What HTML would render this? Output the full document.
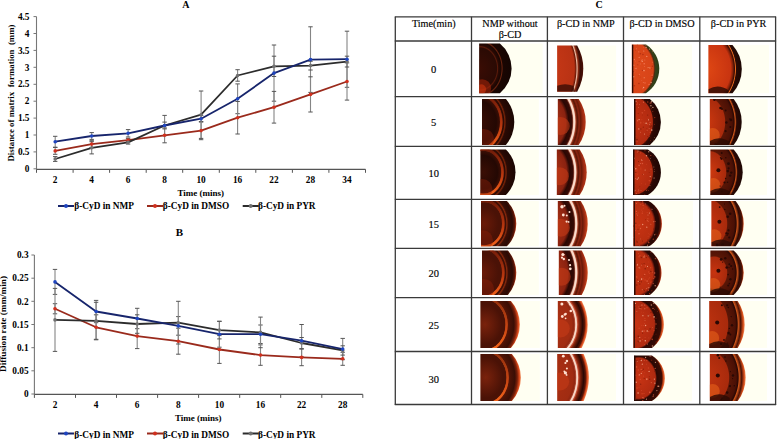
<!DOCTYPE html><html><head><meta charset="utf-8"><style>
html,body{margin:0;padding:0;background:#fff;}
#root{position:relative;width:777px;height:439px;overflow:hidden;background:#fff;font-family:"Liberation Serif",serif;}
.t{position:absolute;white-space:nowrap;line-height:1;color:#000;}
.s{-webkit-text-stroke:0.15px #000;}
.b{font-weight:bold;}
</style></head><body><div id="root">
<svg style="position:absolute;left:0;top:0" width="390" height="439" viewBox="0 0 390 439">
<line x1="36.5" y1="16.6" x2="36.5" y2="169.3" stroke="#777" stroke-width="1.1"/>
<line x1="36.5" y1="169.3" x2="365.5" y2="169.3" stroke="#555" stroke-width="1.3"/>
<line x1="33.5" y1="168.8" x2="36.5" y2="168.8" stroke="#777" stroke-width="1"/>
<line x1="33.5" y1="151.9" x2="36.5" y2="151.9" stroke="#777" stroke-width="1"/>
<line x1="33.5" y1="135.0" x2="36.5" y2="135.0" stroke="#777" stroke-width="1"/>
<line x1="33.5" y1="118.1" x2="36.5" y2="118.1" stroke="#777" stroke-width="1"/>
<line x1="33.5" y1="101.2" x2="36.5" y2="101.2" stroke="#777" stroke-width="1"/>
<line x1="33.5" y1="84.3" x2="36.5" y2="84.3" stroke="#777" stroke-width="1"/>
<line x1="33.5" y1="67.3" x2="36.5" y2="67.3" stroke="#777" stroke-width="1"/>
<line x1="33.5" y1="50.4" x2="36.5" y2="50.4" stroke="#777" stroke-width="1"/>
<line x1="33.5" y1="33.5" x2="36.5" y2="33.5" stroke="#777" stroke-width="1"/>
<line x1="33.5" y1="16.6" x2="36.5" y2="16.6" stroke="#777" stroke-width="1"/>
<line x1="36.5" y1="169.3" x2="36.5" y2="172.8" stroke="#555" stroke-width="1"/>
<line x1="73.1" y1="169.3" x2="73.1" y2="172.8" stroke="#555" stroke-width="1"/>
<line x1="109.6" y1="169.3" x2="109.6" y2="172.8" stroke="#555" stroke-width="1"/>
<line x1="146.2" y1="169.3" x2="146.2" y2="172.8" stroke="#555" stroke-width="1"/>
<line x1="182.7" y1="169.3" x2="182.7" y2="172.8" stroke="#555" stroke-width="1"/>
<line x1="219.3" y1="169.3" x2="219.3" y2="172.8" stroke="#555" stroke-width="1"/>
<line x1="255.8" y1="169.3" x2="255.8" y2="172.8" stroke="#555" stroke-width="1"/>
<line x1="292.4" y1="169.3" x2="292.4" y2="172.8" stroke="#555" stroke-width="1"/>
<line x1="328.9" y1="169.3" x2="328.9" y2="172.8" stroke="#555" stroke-width="1"/>
<line x1="365.5" y1="169.3" x2="365.5" y2="172.8" stroke="#555" stroke-width="1"/>
<line x1="55.2" y1="136.3" x2="55.2" y2="147.2" stroke="#858585" stroke-width="1.1"/>
<line x1="53.0" y1="136.3" x2="57.4" y2="136.3" stroke="#555" stroke-width="1"/>
<line x1="53.0" y1="147.2" x2="57.4" y2="147.2" stroke="#555" stroke-width="1"/>
<line x1="91.7" y1="132.6" x2="91.7" y2="139.4" stroke="#858585" stroke-width="1.1"/>
<line x1="89.5" y1="132.6" x2="93.9" y2="132.6" stroke="#555" stroke-width="1"/>
<line x1="89.5" y1="139.4" x2="93.9" y2="139.4" stroke="#555" stroke-width="1"/>
<line x1="128.1" y1="129.6" x2="128.1" y2="137.0" stroke="#858585" stroke-width="1.1"/>
<line x1="125.9" y1="129.6" x2="130.3" y2="129.6" stroke="#555" stroke-width="1"/>
<line x1="125.9" y1="137.0" x2="130.3" y2="137.0" stroke="#555" stroke-width="1"/>
<line x1="164.6" y1="115.4" x2="164.6" y2="135.7" stroke="#858585" stroke-width="1.1"/>
<line x1="162.4" y1="115.4" x2="166.8" y2="115.4" stroke="#555" stroke-width="1"/>
<line x1="162.4" y1="135.7" x2="166.8" y2="135.7" stroke="#555" stroke-width="1"/>
<line x1="201.1" y1="115.4" x2="201.1" y2="122.1" stroke="#858585" stroke-width="1.1"/>
<line x1="198.9" y1="115.4" x2="203.3" y2="115.4" stroke="#555" stroke-width="1"/>
<line x1="198.9" y1="122.1" x2="203.3" y2="122.1" stroke="#555" stroke-width="1"/>
<line x1="237.6" y1="83.9" x2="237.6" y2="113.7" stroke="#858585" stroke-width="1.1"/>
<line x1="235.4" y1="83.9" x2="239.8" y2="83.9" stroke="#555" stroke-width="1"/>
<line x1="235.4" y1="113.7" x2="239.8" y2="113.7" stroke="#555" stroke-width="1"/>
<line x1="274.0" y1="45.0" x2="274.0" y2="101.2" stroke="#858585" stroke-width="1.1"/>
<line x1="271.8" y1="45.0" x2="276.2" y2="45.0" stroke="#555" stroke-width="1"/>
<line x1="271.8" y1="101.2" x2="276.2" y2="101.2" stroke="#555" stroke-width="1"/>
<line x1="310.5" y1="26.8" x2="310.5" y2="92.4" stroke="#858585" stroke-width="1.1"/>
<line x1="308.3" y1="26.8" x2="312.7" y2="26.8" stroke="#555" stroke-width="1"/>
<line x1="308.3" y1="92.4" x2="312.7" y2="92.4" stroke="#555" stroke-width="1"/>
<line x1="347.0" y1="31.2" x2="347.0" y2="87.3" stroke="#858585" stroke-width="1.1"/>
<line x1="344.8" y1="31.2" x2="349.2" y2="31.2" stroke="#555" stroke-width="1"/>
<line x1="344.8" y1="87.3" x2="349.2" y2="87.3" stroke="#555" stroke-width="1"/>
<line x1="55.2" y1="147.5" x2="55.2" y2="154.3" stroke="#858585" stroke-width="1.1"/>
<line x1="53.0" y1="147.5" x2="57.4" y2="147.5" stroke="#555" stroke-width="1"/>
<line x1="53.0" y1="154.3" x2="57.4" y2="154.3" stroke="#555" stroke-width="1"/>
<line x1="91.7" y1="140.7" x2="91.7" y2="147.5" stroke="#858585" stroke-width="1.1"/>
<line x1="89.5" y1="140.7" x2="93.9" y2="140.7" stroke="#555" stroke-width="1"/>
<line x1="89.5" y1="147.5" x2="93.9" y2="147.5" stroke="#555" stroke-width="1"/>
<line x1="128.1" y1="138.4" x2="128.1" y2="141.7" stroke="#858585" stroke-width="1.1"/>
<line x1="125.9" y1="138.4" x2="130.3" y2="138.4" stroke="#555" stroke-width="1"/>
<line x1="125.9" y1="141.7" x2="130.3" y2="141.7" stroke="#555" stroke-width="1"/>
<line x1="164.6" y1="127.9" x2="164.6" y2="142.8" stroke="#858585" stroke-width="1.1"/>
<line x1="162.4" y1="127.9" x2="166.8" y2="127.9" stroke="#555" stroke-width="1"/>
<line x1="162.4" y1="142.8" x2="166.8" y2="142.8" stroke="#555" stroke-width="1"/>
<line x1="201.1" y1="121.5" x2="201.1" y2="139.7" stroke="#858585" stroke-width="1.1"/>
<line x1="198.9" y1="121.5" x2="203.3" y2="121.5" stroke="#555" stroke-width="1"/>
<line x1="198.9" y1="139.7" x2="203.3" y2="139.7" stroke="#555" stroke-width="1"/>
<line x1="237.6" y1="101.5" x2="237.6" y2="134.0" stroke="#858585" stroke-width="1.1"/>
<line x1="235.4" y1="101.5" x2="239.8" y2="101.5" stroke="#555" stroke-width="1"/>
<line x1="235.4" y1="134.0" x2="239.8" y2="134.0" stroke="#555" stroke-width="1"/>
<line x1="274.0" y1="91.4" x2="274.0" y2="123.1" stroke="#858585" stroke-width="1.1"/>
<line x1="271.8" y1="91.4" x2="276.2" y2="91.4" stroke="#555" stroke-width="1"/>
<line x1="271.8" y1="123.1" x2="276.2" y2="123.1" stroke="#555" stroke-width="1"/>
<line x1="310.5" y1="76.8" x2="310.5" y2="112.0" stroke="#858585" stroke-width="1.1"/>
<line x1="308.3" y1="76.8" x2="312.7" y2="76.8" stroke="#555" stroke-width="1"/>
<line x1="308.3" y1="112.0" x2="312.7" y2="112.0" stroke="#555" stroke-width="1"/>
<line x1="347.0" y1="62.9" x2="347.0" y2="100.1" stroke="#858585" stroke-width="1.1"/>
<line x1="344.8" y1="62.9" x2="349.2" y2="62.9" stroke="#555" stroke-width="1"/>
<line x1="344.8" y1="100.1" x2="349.2" y2="100.1" stroke="#555" stroke-width="1"/>
<line x1="55.2" y1="156.6" x2="55.2" y2="161.4" stroke="#858585" stroke-width="1.1"/>
<line x1="53.0" y1="156.6" x2="57.4" y2="156.6" stroke="#555" stroke-width="1"/>
<line x1="53.0" y1="161.4" x2="57.4" y2="161.4" stroke="#555" stroke-width="1"/>
<line x1="91.7" y1="141.7" x2="91.7" y2="153.9" stroke="#858585" stroke-width="1.1"/>
<line x1="89.5" y1="141.7" x2="93.9" y2="141.7" stroke="#555" stroke-width="1"/>
<line x1="89.5" y1="153.9" x2="93.9" y2="153.9" stroke="#555" stroke-width="1"/>
<line x1="128.1" y1="140.7" x2="128.1" y2="144.1" stroke="#858585" stroke-width="1.1"/>
<line x1="125.9" y1="140.7" x2="130.3" y2="140.7" stroke="#555" stroke-width="1"/>
<line x1="125.9" y1="144.1" x2="130.3" y2="144.1" stroke="#555" stroke-width="1"/>
<line x1="164.6" y1="122.1" x2="164.6" y2="128.9" stroke="#858585" stroke-width="1.1"/>
<line x1="162.4" y1="122.1" x2="166.8" y2="122.1" stroke="#555" stroke-width="1"/>
<line x1="162.4" y1="128.9" x2="166.8" y2="128.9" stroke="#555" stroke-width="1"/>
<line x1="201.1" y1="91.0" x2="201.1" y2="138.4" stroke="#858585" stroke-width="1.1"/>
<line x1="198.9" y1="91.0" x2="203.3" y2="91.0" stroke="#555" stroke-width="1"/>
<line x1="198.9" y1="138.4" x2="203.3" y2="138.4" stroke="#555" stroke-width="1"/>
<line x1="237.6" y1="69.7" x2="237.6" y2="81.2" stroke="#858585" stroke-width="1.1"/>
<line x1="235.4" y1="69.7" x2="239.8" y2="69.7" stroke="#555" stroke-width="1"/>
<line x1="235.4" y1="81.2" x2="239.8" y2="81.2" stroke="#555" stroke-width="1"/>
<line x1="274.0" y1="56.2" x2="274.0" y2="76.5" stroke="#858585" stroke-width="1.1"/>
<line x1="271.8" y1="56.2" x2="276.2" y2="56.2" stroke="#555" stroke-width="1"/>
<line x1="271.8" y1="76.5" x2="276.2" y2="76.5" stroke="#555" stroke-width="1"/>
<line x1="310.5" y1="61.3" x2="310.5" y2="70.0" stroke="#858585" stroke-width="1.1"/>
<line x1="308.3" y1="61.3" x2="312.7" y2="61.3" stroke="#555" stroke-width="1"/>
<line x1="308.3" y1="70.0" x2="312.7" y2="70.0" stroke="#555" stroke-width="1"/>
<line x1="347.0" y1="56.2" x2="347.0" y2="67.0" stroke="#858585" stroke-width="1.1"/>
<line x1="344.8" y1="56.2" x2="349.2" y2="56.2" stroke="#555" stroke-width="1"/>
<line x1="344.8" y1="67.0" x2="349.2" y2="67.0" stroke="#555" stroke-width="1"/>
<polyline points="55.2,150.9 91.7,144.1 128.1,140.1 164.6,135.3 201.1,130.6 237.6,117.7 274.0,107.2 310.5,94.4 347.0,81.5" fill="none" stroke="#9a2a1c" stroke-width="1.8" stroke-linejoin="round"/>
<circle cx="55.2" cy="150.9" r="1.8" fill="#d0301e"/>
<circle cx="91.7" cy="144.1" r="1.8" fill="#d0301e"/>
<circle cx="128.1" cy="140.1" r="1.8" fill="#d0301e"/>
<circle cx="164.6" cy="135.3" r="1.8" fill="#d0301e"/>
<circle cx="201.1" cy="130.6" r="1.8" fill="#d0301e"/>
<circle cx="237.6" cy="117.7" r="1.8" fill="#d0301e"/>
<circle cx="274.0" cy="107.2" r="1.8" fill="#d0301e"/>
<circle cx="310.5" cy="94.4" r="1.8" fill="#d0301e"/>
<circle cx="347.0" cy="81.5" r="1.8" fill="#d0301e"/>
<polyline points="55.2,159.0 91.7,147.8 128.1,142.4 164.6,125.5 201.1,114.7 237.6,75.5 274.0,66.3 310.5,65.6 347.0,61.6" fill="none" stroke="#2c2c2c" stroke-width="1.8" stroke-linejoin="round"/>
<circle cx="55.2" cy="159.0" r="1.8" fill="#707070"/>
<circle cx="91.7" cy="147.8" r="1.8" fill="#707070"/>
<circle cx="128.1" cy="142.4" r="1.8" fill="#707070"/>
<circle cx="164.6" cy="125.5" r="1.8" fill="#707070"/>
<circle cx="201.1" cy="114.7" r="1.8" fill="#707070"/>
<circle cx="237.6" cy="75.5" r="1.8" fill="#707070"/>
<circle cx="274.0" cy="66.3" r="1.8" fill="#707070"/>
<circle cx="310.5" cy="65.6" r="1.8" fill="#707070"/>
<circle cx="347.0" cy="61.6" r="1.8" fill="#707070"/>
<polyline points="55.2,141.7 91.7,136.0 128.1,133.3 164.6,125.5 201.1,118.7 237.6,98.8 274.0,73.1 310.5,59.6 347.0,59.2" fill="none" stroke="#17256c" stroke-width="1.8" stroke-linejoin="round"/>
<circle cx="55.2" cy="141.7" r="1.8" fill="#1f45c0"/>
<circle cx="91.7" cy="136.0" r="1.8" fill="#1f45c0"/>
<circle cx="128.1" cy="133.3" r="1.8" fill="#1f45c0"/>
<circle cx="164.6" cy="125.5" r="1.8" fill="#1f45c0"/>
<circle cx="201.1" cy="118.7" r="1.8" fill="#1f45c0"/>
<circle cx="237.6" cy="98.8" r="1.8" fill="#1f45c0"/>
<circle cx="274.0" cy="73.1" r="1.8" fill="#1f45c0"/>
<circle cx="310.5" cy="59.6" r="1.8" fill="#1f45c0"/>
<circle cx="347.0" cy="59.2" r="1.8" fill="#1f45c0"/>
<line x1="34.4" y1="255.0" x2="34.4" y2="394.4" stroke="#777" stroke-width="1.1"/>
<line x1="34.4" y1="394.4" x2="362.8" y2="394.4" stroke="#555" stroke-width="1.3"/>
<line x1="31.4" y1="394.0" x2="34.4" y2="394.0" stroke="#777" stroke-width="1"/>
<line x1="31.4" y1="370.8" x2="34.4" y2="370.8" stroke="#777" stroke-width="1"/>
<line x1="31.4" y1="347.7" x2="34.4" y2="347.7" stroke="#777" stroke-width="1"/>
<line x1="31.4" y1="324.5" x2="34.4" y2="324.5" stroke="#777" stroke-width="1"/>
<line x1="31.4" y1="301.3" x2="34.4" y2="301.3" stroke="#777" stroke-width="1"/>
<line x1="31.4" y1="278.2" x2="34.4" y2="278.2" stroke="#777" stroke-width="1"/>
<line x1="31.4" y1="255.0" x2="34.4" y2="255.0" stroke="#777" stroke-width="1"/>
<line x1="34.4" y1="394.4" x2="34.4" y2="397.9" stroke="#555" stroke-width="1"/>
<line x1="75.5" y1="394.4" x2="75.5" y2="397.9" stroke="#555" stroke-width="1"/>
<line x1="116.5" y1="394.4" x2="116.5" y2="397.9" stroke="#555" stroke-width="1"/>
<line x1="157.6" y1="394.4" x2="157.6" y2="397.9" stroke="#555" stroke-width="1"/>
<line x1="198.6" y1="394.4" x2="198.6" y2="397.9" stroke="#555" stroke-width="1"/>
<line x1="239.7" y1="394.4" x2="239.7" y2="397.9" stroke="#555" stroke-width="1"/>
<line x1="280.7" y1="394.4" x2="280.7" y2="397.9" stroke="#555" stroke-width="1"/>
<line x1="321.8" y1="394.4" x2="321.8" y2="397.9" stroke="#555" stroke-width="1"/>
<line x1="362.8" y1="394.4" x2="362.8" y2="397.9" stroke="#555" stroke-width="1"/>
<line x1="55.0" y1="269.4" x2="55.0" y2="294.4" stroke="#858585" stroke-width="1.1"/>
<line x1="52.8" y1="269.4" x2="57.2" y2="269.4" stroke="#555" stroke-width="1"/>
<line x1="52.8" y1="294.4" x2="57.2" y2="294.4" stroke="#555" stroke-width="1"/>
<line x1="96.1" y1="300.4" x2="96.1" y2="322.7" stroke="#858585" stroke-width="1.1"/>
<line x1="93.9" y1="300.4" x2="98.3" y2="300.4" stroke="#555" stroke-width="1"/>
<line x1="93.9" y1="322.7" x2="98.3" y2="322.7" stroke="#555" stroke-width="1"/>
<line x1="137.2" y1="308.3" x2="137.2" y2="328.7" stroke="#858585" stroke-width="1.1"/>
<line x1="135.0" y1="308.3" x2="139.4" y2="308.3" stroke="#555" stroke-width="1"/>
<line x1="135.0" y1="328.7" x2="139.4" y2="328.7" stroke="#555" stroke-width="1"/>
<line x1="178.3" y1="316.6" x2="178.3" y2="335.2" stroke="#858585" stroke-width="1.1"/>
<line x1="176.1" y1="316.6" x2="180.5" y2="316.6" stroke="#555" stroke-width="1"/>
<line x1="176.1" y1="335.2" x2="180.5" y2="335.2" stroke="#555" stroke-width="1"/>
<line x1="219.4" y1="321.3" x2="219.4" y2="347.2" stroke="#858585" stroke-width="1.1"/>
<line x1="217.2" y1="321.3" x2="221.6" y2="321.3" stroke="#555" stroke-width="1"/>
<line x1="217.2" y1="347.2" x2="221.6" y2="347.2" stroke="#555" stroke-width="1"/>
<line x1="260.5" y1="325.0" x2="260.5" y2="343.5" stroke="#858585" stroke-width="1.1"/>
<line x1="258.3" y1="325.0" x2="262.7" y2="325.0" stroke="#555" stroke-width="1"/>
<line x1="258.3" y1="343.5" x2="262.7" y2="343.5" stroke="#555" stroke-width="1"/>
<line x1="301.6" y1="324.5" x2="301.6" y2="356.9" stroke="#858585" stroke-width="1.1"/>
<line x1="299.4" y1="324.5" x2="303.8" y2="324.5" stroke="#555" stroke-width="1"/>
<line x1="299.4" y1="356.9" x2="303.8" y2="356.9" stroke="#555" stroke-width="1"/>
<line x1="342.7" y1="338.4" x2="342.7" y2="359.7" stroke="#858585" stroke-width="1.1"/>
<line x1="340.5" y1="338.4" x2="344.9" y2="338.4" stroke="#555" stroke-width="1"/>
<line x1="340.5" y1="359.7" x2="344.9" y2="359.7" stroke="#555" stroke-width="1"/>
<line x1="55.0" y1="303.7" x2="55.0" y2="313.8" stroke="#858585" stroke-width="1.1"/>
<line x1="52.8" y1="303.7" x2="57.2" y2="303.7" stroke="#555" stroke-width="1"/>
<line x1="52.8" y1="313.8" x2="57.2" y2="313.8" stroke="#555" stroke-width="1"/>
<line x1="96.1" y1="314.8" x2="96.1" y2="339.8" stroke="#858585" stroke-width="1.1"/>
<line x1="93.9" y1="314.8" x2="98.3" y2="314.8" stroke="#555" stroke-width="1"/>
<line x1="93.9" y1="339.8" x2="98.3" y2="339.8" stroke="#555" stroke-width="1"/>
<line x1="137.2" y1="323.6" x2="137.2" y2="348.6" stroke="#858585" stroke-width="1.1"/>
<line x1="135.0" y1="323.6" x2="139.4" y2="323.6" stroke="#555" stroke-width="1"/>
<line x1="135.0" y1="348.6" x2="139.4" y2="348.6" stroke="#555" stroke-width="1"/>
<line x1="178.3" y1="328.2" x2="178.3" y2="354.2" stroke="#858585" stroke-width="1.1"/>
<line x1="176.1" y1="328.2" x2="180.5" y2="328.2" stroke="#555" stroke-width="1"/>
<line x1="176.1" y1="354.2" x2="180.5" y2="354.2" stroke="#555" stroke-width="1"/>
<line x1="219.4" y1="335.6" x2="219.4" y2="363.4" stroke="#858585" stroke-width="1.1"/>
<line x1="217.2" y1="335.6" x2="221.6" y2="335.6" stroke="#555" stroke-width="1"/>
<line x1="217.2" y1="363.4" x2="221.6" y2="363.4" stroke="#555" stroke-width="1"/>
<line x1="260.5" y1="344.9" x2="260.5" y2="365.3" stroke="#858585" stroke-width="1.1"/>
<line x1="258.3" y1="344.9" x2="262.7" y2="344.9" stroke="#555" stroke-width="1"/>
<line x1="258.3" y1="365.3" x2="262.7" y2="365.3" stroke="#555" stroke-width="1"/>
<line x1="301.6" y1="349.1" x2="301.6" y2="365.7" stroke="#858585" stroke-width="1.1"/>
<line x1="299.4" y1="349.1" x2="303.8" y2="349.1" stroke="#555" stroke-width="1"/>
<line x1="299.4" y1="365.7" x2="303.8" y2="365.7" stroke="#555" stroke-width="1"/>
<line x1="342.7" y1="352.3" x2="342.7" y2="365.3" stroke="#858585" stroke-width="1.1"/>
<line x1="340.5" y1="352.3" x2="344.9" y2="352.3" stroke="#555" stroke-width="1"/>
<line x1="340.5" y1="365.3" x2="344.9" y2="365.3" stroke="#555" stroke-width="1"/>
<line x1="55.0" y1="288.4" x2="55.0" y2="351.4" stroke="#858585" stroke-width="1.1"/>
<line x1="52.8" y1="288.4" x2="57.2" y2="288.4" stroke="#555" stroke-width="1"/>
<line x1="52.8" y1="351.4" x2="57.2" y2="351.4" stroke="#555" stroke-width="1"/>
<line x1="96.1" y1="302.3" x2="96.1" y2="339.3" stroke="#858585" stroke-width="1.1"/>
<line x1="93.9" y1="302.3" x2="98.3" y2="302.3" stroke="#555" stroke-width="1"/>
<line x1="93.9" y1="339.3" x2="98.3" y2="339.3" stroke="#555" stroke-width="1"/>
<line x1="137.2" y1="314.8" x2="137.2" y2="333.3" stroke="#858585" stroke-width="1.1"/>
<line x1="135.0" y1="314.8" x2="139.4" y2="314.8" stroke="#555" stroke-width="1"/>
<line x1="135.0" y1="333.3" x2="139.4" y2="333.3" stroke="#555" stroke-width="1"/>
<line x1="178.3" y1="301.3" x2="178.3" y2="344.0" stroke="#858585" stroke-width="1.1"/>
<line x1="176.1" y1="301.3" x2="180.5" y2="301.3" stroke="#555" stroke-width="1"/>
<line x1="176.1" y1="344.0" x2="180.5" y2="344.0" stroke="#555" stroke-width="1"/>
<line x1="219.4" y1="321.3" x2="219.4" y2="338.9" stroke="#858585" stroke-width="1.1"/>
<line x1="217.2" y1="321.3" x2="221.6" y2="321.3" stroke="#555" stroke-width="1"/>
<line x1="217.2" y1="338.9" x2="221.6" y2="338.9" stroke="#555" stroke-width="1"/>
<line x1="260.5" y1="317.1" x2="260.5" y2="347.7" stroke="#858585" stroke-width="1.1"/>
<line x1="258.3" y1="317.1" x2="262.7" y2="317.1" stroke="#555" stroke-width="1"/>
<line x1="258.3" y1="347.7" x2="262.7" y2="347.7" stroke="#555" stroke-width="1"/>
<line x1="301.6" y1="337.5" x2="301.6" y2="348.6" stroke="#858585" stroke-width="1.1"/>
<line x1="299.4" y1="337.5" x2="303.8" y2="337.5" stroke="#555" stroke-width="1"/>
<line x1="299.4" y1="348.6" x2="303.8" y2="348.6" stroke="#555" stroke-width="1"/>
<line x1="342.7" y1="345.8" x2="342.7" y2="355.1" stroke="#858585" stroke-width="1.1"/>
<line x1="340.5" y1="345.8" x2="344.9" y2="345.8" stroke="#555" stroke-width="1"/>
<line x1="340.5" y1="355.1" x2="344.9" y2="355.1" stroke="#555" stroke-width="1"/>
<polyline points="55.0,308.8 96.1,327.3 137.2,336.1 178.3,341.2 219.4,349.5 260.5,355.1 301.6,357.4 342.7,358.8" fill="none" stroke="#9a2a1c" stroke-width="1.8" stroke-linejoin="round"/>
<circle cx="55.0" cy="308.8" r="1.8" fill="#d0301e"/>
<circle cx="96.1" cy="327.3" r="1.8" fill="#d0301e"/>
<circle cx="137.2" cy="336.1" r="1.8" fill="#d0301e"/>
<circle cx="178.3" cy="341.2" r="1.8" fill="#d0301e"/>
<circle cx="219.4" cy="349.5" r="1.8" fill="#d0301e"/>
<circle cx="260.5" cy="355.1" r="1.8" fill="#d0301e"/>
<circle cx="301.6" cy="357.4" r="1.8" fill="#d0301e"/>
<circle cx="342.7" cy="358.8" r="1.8" fill="#d0301e"/>
<polyline points="55.0,319.9 96.1,320.8 137.2,324.0 178.3,322.7 219.4,330.1 260.5,332.4 301.6,343.0 342.7,350.4" fill="none" stroke="#2c2c2c" stroke-width="1.8" stroke-linejoin="round"/>
<circle cx="55.0" cy="319.9" r="1.8" fill="#707070"/>
<circle cx="96.1" cy="320.8" r="1.8" fill="#707070"/>
<circle cx="137.2" cy="324.0" r="1.8" fill="#707070"/>
<circle cx="178.3" cy="322.7" r="1.8" fill="#707070"/>
<circle cx="219.4" cy="330.1" r="1.8" fill="#707070"/>
<circle cx="260.5" cy="332.4" r="1.8" fill="#707070"/>
<circle cx="301.6" cy="343.0" r="1.8" fill="#707070"/>
<circle cx="342.7" cy="350.4" r="1.8" fill="#707070"/>
<polyline points="55.0,281.9 96.1,311.5 137.2,318.5 178.3,325.9 219.4,334.2 260.5,334.2 301.6,340.7 342.7,349.1" fill="none" stroke="#17256c" stroke-width="1.8" stroke-linejoin="round"/>
<circle cx="55.0" cy="281.9" r="1.8" fill="#1f45c0"/>
<circle cx="96.1" cy="311.5" r="1.8" fill="#1f45c0"/>
<circle cx="137.2" cy="318.5" r="1.8" fill="#1f45c0"/>
<circle cx="178.3" cy="325.9" r="1.8" fill="#1f45c0"/>
<circle cx="219.4" cy="334.2" r="1.8" fill="#1f45c0"/>
<circle cx="260.5" cy="334.2" r="1.8" fill="#1f45c0"/>
<circle cx="301.6" cy="340.7" r="1.8" fill="#1f45c0"/>
<circle cx="342.7" cy="349.1" r="1.8" fill="#1f45c0"/>
<line x1="58" y1="206" x2="74" y2="206" stroke="#17256c" stroke-width="2"/>
<circle cx="66" cy="206" r="2" fill="#1f45c0"/>
<line x1="147" y1="206" x2="163" y2="206" stroke="#9a2a1c" stroke-width="2"/>
<circle cx="155" cy="206" r="2" fill="#d0301e"/>
<line x1="242.7" y1="206" x2="258.7" y2="206" stroke="#2c2c2c" stroke-width="2"/>
<circle cx="250.7" cy="206" r="2" fill="#707070"/>
<line x1="58" y1="433.5" x2="74" y2="433.5" stroke="#17256c" stroke-width="2"/>
<circle cx="66" cy="433.5" r="2" fill="#1f45c0"/>
<line x1="147" y1="433.5" x2="163" y2="433.5" stroke="#9a2a1c" stroke-width="2"/>
<circle cx="155" cy="433.5" r="2" fill="#d0301e"/>
<line x1="242.7" y1="433.5" x2="258.7" y2="433.5" stroke="#2c2c2c" stroke-width="2"/>
<circle cx="250.7" cy="433.5" r="2" fill="#707070"/>
</svg>
<div class="t b" style="left:185.8px;top:4.5px;font-size:10px;transform:translate(-50%,-50%);">A</div>
<div class="t b" style="left:29.5px;top:170.0px;font-size:9.3px;transform:translate(-100%,-50%);">0</div>
<div class="t b" style="left:29.5px;top:153.09px;font-size:9.3px;transform:translate(-100%,-50%);">0.5</div>
<div class="t b" style="left:29.5px;top:136.18px;font-size:9.3px;transform:translate(-100%,-50%);">1</div>
<div class="t b" style="left:29.5px;top:119.27000000000001px;font-size:9.3px;transform:translate(-100%,-50%);">1.5</div>
<div class="t b" style="left:29.5px;top:102.36000000000001px;font-size:9.3px;transform:translate(-100%,-50%);">2</div>
<div class="t b" style="left:29.5px;top:85.45000000000002px;font-size:9.3px;transform:translate(-100%,-50%);">2.5</div>
<div class="t b" style="left:29.5px;top:68.54px;font-size:9.3px;transform:translate(-100%,-50%);">3</div>
<div class="t b" style="left:29.5px;top:51.63000000000001px;font-size:9.3px;transform:translate(-100%,-50%);">3.5</div>
<div class="t b" style="left:29.5px;top:34.72000000000001px;font-size:9.3px;transform:translate(-100%,-50%);">4</div>
<div class="t b" style="left:29.5px;top:17.810000000000013px;font-size:9.3px;transform:translate(-100%,-50%);">4.5</div>
<div class="t b" style="left:55.2px;top:181px;font-size:9.3px;transform:translate(-50%,-50%);">2</div>
<div class="t b" style="left:91.67px;top:181px;font-size:9.3px;transform:translate(-50%,-50%);">4</div>
<div class="t b" style="left:128.14px;top:181px;font-size:9.3px;transform:translate(-50%,-50%);">6</div>
<div class="t b" style="left:164.61px;top:181px;font-size:9.3px;transform:translate(-50%,-50%);">8</div>
<div class="t b" style="left:201.07999999999998px;top:181px;font-size:9.3px;transform:translate(-50%,-50%);">10</div>
<div class="t b" style="left:237.55px;top:181px;font-size:9.3px;transform:translate(-50%,-50%);">16</div>
<div class="t b" style="left:274.02px;top:181px;font-size:9.3px;transform:translate(-50%,-50%);">22</div>
<div class="t b" style="left:310.49px;top:181px;font-size:9.3px;transform:translate(-50%,-50%);">28</div>
<div class="t b" style="left:346.96px;top:181px;font-size:9.3px;transform:translate(-50%,-50%);">34</div>
<div class="t b" style="left:200.8px;top:192.5px;font-size:9px;transform:translate(-50%,-50%);">Time (mins)</div>
<div class="t b" style="left:10.8px;top:92.5px;font-size:8.85px;transform:translate(-50%,-50%) rotate(-90deg);">Distance of matrix&nbsp; formation&nbsp; (mm)</div>
<div class="t b" style="left:74.3px;top:207px;font-size:9.3px;transform:translate(0,-50%);">β-CyD in NMP</div>
<div class="t b" style="left:162.8px;top:207px;font-size:9.3px;transform:translate(0,-50%);">β-CyD in DMSO</div>
<div class="t b" style="left:258px;top:207px;font-size:9.3px;transform:translate(0,-50%);">β-CyD in PYR</div>
<div class="t b" style="left:179.5px;top:232px;font-size:11px;transform:translate(-50%,-50%);">B</div>
<div class="t b" style="left:28.6px;top:395.3px;font-size:9.3px;transform:translate(-100%,-50%);">0</div>
<div class="t b" style="left:28.6px;top:372.135px;font-size:9.3px;transform:translate(-100%,-50%);">0.05</div>
<div class="t b" style="left:28.6px;top:348.97px;font-size:9.3px;transform:translate(-100%,-50%);">0.1</div>
<div class="t b" style="left:28.6px;top:325.805px;font-size:9.3px;transform:translate(-100%,-50%);">0.15</div>
<div class="t b" style="left:28.6px;top:302.64px;font-size:9.3px;transform:translate(-100%,-50%);">0.2</div>
<div class="t b" style="left:28.6px;top:279.475px;font-size:9.3px;transform:translate(-100%,-50%);">0.25</div>
<div class="t b" style="left:28.6px;top:256.31px;font-size:9.3px;transform:translate(-100%,-50%);">0.3</div>
<div class="t b" style="left:55.0px;top:405.7px;font-size:9.3px;transform:translate(-50%,-50%);">2</div>
<div class="t b" style="left:96.1px;top:405.7px;font-size:9.3px;transform:translate(-50%,-50%);">4</div>
<div class="t b" style="left:137.2px;top:405.7px;font-size:9.3px;transform:translate(-50%,-50%);">6</div>
<div class="t b" style="left:178.3px;top:405.7px;font-size:9.3px;transform:translate(-50%,-50%);">8</div>
<div class="t b" style="left:219.4px;top:405.7px;font-size:9.3px;transform:translate(-50%,-50%);">10</div>
<div class="t b" style="left:260.5px;top:405.7px;font-size:9.3px;transform:translate(-50%,-50%);">16</div>
<div class="t b" style="left:301.6px;top:405.7px;font-size:9.3px;transform:translate(-50%,-50%);">22</div>
<div class="t b" style="left:342.7px;top:405.7px;font-size:9.3px;transform:translate(-50%,-50%);">28</div>
<div class="t b" style="left:198.3px;top:417.8px;font-size:9px;transform:translate(-50%,-50%);">Time (mins)</div>
<div class="t b" style="left:4.2px;top:324.2px;font-size:9.2px;transform:translate(-50%,-50%) rotate(-90deg);">Diffusion rate (mm/min)</div>
<div class="t b" style="left:74.3px;top:435.5px;font-size:9.3px;transform:translate(0,-50%);">β-CyD in NMP</div>
<div class="t b" style="left:162.8px;top:435.5px;font-size:9.3px;transform:translate(0,-50%);">β-CyD in DMSO</div>
<div class="t b" style="left:258px;top:435.5px;font-size:9.3px;transform:translate(0,-50%);">β-CyD in PYR</div>
<div class="t b" style="left:599px;top:5px;font-size:10px;transform:translate(-50%,-50%);">C</div>
<svg style="position:absolute;left:0;top:0" width="777" height="439" viewBox="0 0 777 439">
<defs><linearGradient id="gb" x1="0" y1="0" x2="0" y2="1"><stop offset="0" stop-color="#6a1806"/><stop offset="0.55" stop-color="#b8360e"/><stop offset="1" stop-color="#ff6a1c"/></linearGradient><linearGradient id="go" x1="1" y1="0" x2="0" y2="1"><stop offset="0" stop-color="#9a220a"/><stop offset="0.6" stop-color="#c8340e"/><stop offset="1" stop-color="#f06018"/></linearGradient><clipPath id="c01"><path d="M479.1,43.6 L499.90,43.6 A32.13,32.13 0 0 1 499.90,93.2 L479.1,93.2 Z"/></clipPath><radialGradient id="rg01" gradientUnits="userSpaceOnUse" cx="479.47" cy="68.40" r="32.13" gradientTransform="translate(0,68.40) scale(1,1.2) translate(0,-68.40)"><stop offset="0.0000" stop-color="#3a0c04"/><stop offset="0.5332" stop-color="#2a0a04"/><stop offset="0.5643" stop-color="#5a1a0a"/><stop offset="0.5954" stop-color="#2a0a04"/><stop offset="0.6732" stop-color="#1a0602"/><stop offset="0.7044" stop-color="#6a2410"/><stop offset="0.7355" stop-color="#1a0602"/><stop offset="1.0000" stop-color="#140502"/></radialGradient><clipPath id="c02"><path d="M557.1,45.5 L577.20,45.5 A46.79,46.79 0 0 1 577.20,91.7 L557.1,91.7 Z"/></clipPath><radialGradient id="rg02" gradientUnits="userSpaceOnUse" cx="536.51" cy="68.60" r="46.79" gradientTransform="translate(0,68.60) scale(1,1.3) translate(0,-68.60)"><stop offset="0.0000" stop-color="#d03c18"/><stop offset="0.8076" stop-color="#b83214"/><stop offset="0.8440" stop-color="#6a1a08"/><stop offset="0.8654" stop-color="#f0c0a8"/><stop offset="0.8931" stop-color="#8a2a12"/><stop offset="0.9359" stop-color="#3a0c05"/><stop offset="1.0000" stop-color="#4a1006"/></radialGradient><clipPath id="c03"><path d="M631.8,44.5 L646.00,44.5 A28.94,28.94 0 0 1 646.00,93.2 L631.8,93.2 Z"/></clipPath><radialGradient id="rg03" gradientUnits="userSpaceOnUse" cx="630.36" cy="68.85" r="28.94" gradientTransform="translate(0,68.85) scale(1,1.2) translate(0,-68.85)"><stop offset="0.0000" stop-color="#e04c1e"/><stop offset="0.7927" stop-color="#d84418"/><stop offset="0.8445" stop-color="#4a2a10"/><stop offset="0.8791" stop-color="#34421a"/><stop offset="1.0000" stop-color="#2a3c16"/></radialGradient><clipPath id="c04"><path d="M708.4,44.9 L732.50,44.9 A36.01,36.01 0 0 1 732.50,93.2 L708.4,93.2 Z"/></clipPath><radialGradient id="rg04" gradientUnits="userSpaceOnUse" cx="705.79" cy="69.05" r="36.01" gradientTransform="translate(0,69.05) scale(1,1.25) translate(0,-69.05)"><stop offset="0.0000" stop-color="#e04814"/><stop offset="0.6945" stop-color="#c83410"/><stop offset="0.7500" stop-color="#8a2208"/><stop offset="0.7973" stop-color="#3a0c04"/><stop offset="0.8250" stop-color="#e8681e"/><stop offset="0.8472" stop-color="#2a0a04"/><stop offset="1.0000" stop-color="#1a0602"/></radialGradient><clipPath id="c11"><path d="M482.0,99.0 L505.90,99.0 A35.55,35.55 0 0 1 505.90,144.9 L482.0,144.9 Z"/></clipPath><radialGradient id="rg11" gradientUnits="userSpaceOnUse" cx="478.75" cy="121.95" r="35.55" gradientTransform="translate(0,121.95) scale(1,1.2) translate(0,-121.95)"><stop offset="0.0000" stop-color="#3a0e05"/><stop offset="0.4937" stop-color="#240803"/><stop offset="0.5921" stop-color="#3a0e05"/><stop offset="0.6343" stop-color="#b8401a"/><stop offset="0.6765" stop-color="#3a0e05"/><stop offset="0.7047" stop-color="#2a0a04"/><stop offset="0.7328" stop-color="#7a2408"/><stop offset="0.7750" stop-color="#2a0a04"/><stop offset="1.0000" stop-color="#1a0602"/></radialGradient><clipPath id="c12"><path d="M557.8,99.0 L578.70,99.0 A41.29,41.29 0 0 1 578.70,145.0 L557.8,145.0 Z"/></clipPath><radialGradient id="rg12" gradientUnits="userSpaceOnUse" cx="544.41" cy="122.00" r="41.29" gradientTransform="translate(0,122.00) scale(1,1.3) translate(0,-122.00)"><stop offset="0.0000" stop-color="#c03a18"/><stop offset="0.5156" stop-color="#8a2210"/><stop offset="0.5882" stop-color="#2a0804"/><stop offset="0.6851" stop-color="#3a0a04"/><stop offset="0.7093" stop-color="#f5c8b0"/><stop offset="0.7384" stop-color="#f8d8c8"/><stop offset="0.7626" stop-color="#8a2a12"/><stop offset="0.8062" stop-color="#5a1606"/><stop offset="0.8426" stop-color="#8a2410"/><stop offset="0.8789" stop-color="#6a1a08"/><stop offset="0.9394" stop-color="#a02c12"/><stop offset="1.0000" stop-color="#b83a18"/></radialGradient><clipPath id="c13"><path d="M634.0,99.0 L649.90,99.0 A29.55,29.55 0 0 1 649.90,145.0 L634.0,145.0 Z"/></clipPath><radialGradient id="rg13" gradientUnits="userSpaceOnUse" cx="631.35" cy="122.00" r="29.55" gradientTransform="translate(0,122.00) scale(1,1.2) translate(0,-122.00)"><stop offset="0.0000" stop-color="#c83414"/><stop offset="0.7123" stop-color="#b02a10"/><stop offset="0.7462" stop-color="#3a0c05"/><stop offset="0.7969" stop-color="#2a0804"/><stop offset="1.0000" stop-color="#1e0603"/></radialGradient><clipPath id="c14"><path d="M709.8,99.0 L733.70,99.0 A37.06,37.06 0 0 1 733.70,145.0 L709.8,145.0 Z"/></clipPath><radialGradient id="rg14" gradientUnits="userSpaceOnUse" cx="704.64" cy="122.00" r="37.06" gradientTransform="translate(0,122.00) scale(1,1.25) translate(0,-122.00)"><stop offset="0.0000" stop-color="#d03a10"/><stop offset="0.5413" stop-color="#a82a0c"/><stop offset="0.5683" stop-color="#5a1606"/><stop offset="0.7437" stop-color="#4a1005"/><stop offset="0.7976" stop-color="#2a0804"/><stop offset="0.8246" stop-color="#d0561a"/><stop offset="0.8651" stop-color="#2a0804"/><stop offset="1.0000" stop-color="#1c0703"/></radialGradient><clipPath id="c21"><path d="M480.4,149.4 L505.90,149.4 A31.87,31.87 0 0 1 505.90,195.0 L480.4,195.0 Z"/></clipPath><radialGradient id="rg21" gradientUnits="userSpaceOnUse" cx="483.63" cy="172.20" r="31.87" gradientTransform="translate(0,172.20) scale(1,1.2) translate(0,-172.20)"><stop offset="0.0000" stop-color="#3a0e05"/><stop offset="0.4353" stop-color="#240803"/><stop offset="0.5451" stop-color="#3a0e05"/><stop offset="0.5922" stop-color="#b8401a"/><stop offset="0.6392" stop-color="#3a0e05"/><stop offset="0.6706" stop-color="#2a0a04"/><stop offset="0.7020" stop-color="#7a2408"/><stop offset="0.7490" stop-color="#2a0a04"/><stop offset="1.0000" stop-color="#1a0602"/></radialGradient><clipPath id="c22"><path d="M556.8,149.4 L579.70,149.4 A40.63,40.63 0 0 1 579.70,195.0 L556.8,195.0 Z"/></clipPath><radialGradient id="rg22" gradientUnits="userSpaceOnUse" cx="546.07" cy="172.20" r="40.63" gradientTransform="translate(0,172.20) scale(1,1.3) translate(0,-172.20)"><stop offset="0.0000" stop-color="#c03a18"/><stop offset="0.5078" stop-color="#8a2210"/><stop offset="0.5816" stop-color="#2a0804"/><stop offset="0.6801" stop-color="#3a0a04"/><stop offset="0.7047" stop-color="#f5c8b0"/><stop offset="0.7342" stop-color="#f8d8c8"/><stop offset="0.7588" stop-color="#8a2a12"/><stop offset="0.8031" stop-color="#5a1606"/><stop offset="0.8400" stop-color="#8a2410"/><stop offset="0.8769" stop-color="#6a1a08"/><stop offset="0.9385" stop-color="#a02c12"/><stop offset="1.0000" stop-color="#b83a18"/></radialGradient><clipPath id="c23"><path d="M633.0,149.4 L647.90,149.4 A26.49,26.49 0 0 1 647.90,195.0 L633.0,195.0 Z"/></clipPath><radialGradient id="rg23" gradientUnits="userSpaceOnUse" cx="634.41" cy="172.20" r="26.49" gradientTransform="translate(0,172.20) scale(1,1.2) translate(0,-172.20)"><stop offset="0.0000" stop-color="#c83414"/><stop offset="0.6792" stop-color="#b02a10"/><stop offset="0.7169" stop-color="#3a0c05"/><stop offset="0.7735" stop-color="#2a0804"/><stop offset="1.0000" stop-color="#1e0603"/></radialGradient><clipPath id="c24"><path d="M710.4,149.4 L733.70,149.4 A33.38,33.38 0 0 1 733.70,195.0 L710.4,195.0 Z"/></clipPath><radialGradient id="rg24" gradientUnits="userSpaceOnUse" cx="709.32" cy="172.20" r="33.38" gradientTransform="translate(0,172.20) scale(1,1.25) translate(0,-172.20)"><stop offset="0.0000" stop-color="#d03a10"/><stop offset="0.4907" stop-color="#a82a0c"/><stop offset="0.5207" stop-color="#5a1606"/><stop offset="0.7154" stop-color="#4a1005"/><stop offset="0.7753" stop-color="#2a0804"/><stop offset="0.8053" stop-color="#d0561a"/><stop offset="0.8502" stop-color="#2a0804"/><stop offset="1.0000" stop-color="#1c0703"/></radialGradient><clipPath id="c31"><path d="M481.0,201.0 L506.90,201.0 A31.99,31.99 0 0 1 506.90,246.3 L481.0,246.3 Z"/></clipPath><radialGradient id="rg31" gradientUnits="userSpaceOnUse" cx="484.31" cy="223.65" r="31.99" gradientTransform="translate(0,223.65) scale(1,1.2) translate(0,-223.65)"><stop offset="0.0000" stop-color="#6a1a08"/><stop offset="0.4373" stop-color="#4a1206"/><stop offset="0.5467" stop-color="#4a1206"/><stop offset="0.5936" stop-color="#c8481a"/><stop offset="0.6405" stop-color="#4a1206"/><stop offset="0.6718" stop-color="#3a0e05"/><stop offset="0.7030" stop-color="#8a2a0c"/><stop offset="0.7499" stop-color="#3a0e05"/><stop offset="0.8750" stop-color="#2a0a04"/><stop offset="0.9531" stop-color="#5a1606"/><stop offset="1.0000" stop-color="#c8401a"/></radialGradient><clipPath id="c32"><path d="M557.8,201.0 L580.70,201.0 A40.14,40.14 0 0 1 580.70,246.3 L557.8,246.3 Z"/></clipPath><radialGradient id="rg32" gradientUnits="userSpaceOnUse" cx="547.56" cy="223.65" r="40.14" gradientTransform="translate(0,223.65) scale(1,1.3) translate(0,-223.65)"><stop offset="0.0000" stop-color="#c03a18"/><stop offset="0.5018" stop-color="#8a2210"/><stop offset="0.5765" stop-color="#2a0804"/><stop offset="0.6762" stop-color="#3a0a04"/><stop offset="0.7011" stop-color="#f5c8b0"/><stop offset="0.7310" stop-color="#f8d8c8"/><stop offset="0.7559" stop-color="#8a2a12"/><stop offset="0.8007" stop-color="#5a1606"/><stop offset="0.8381" stop-color="#8a2410"/><stop offset="0.8754" stop-color="#6a1a08"/><stop offset="0.9377" stop-color="#a02c12"/><stop offset="1.0000" stop-color="#d04a1c"/></radialGradient><clipPath id="c33"><path d="M633.4,201.0 L648.90,201.0 A26.23,26.23 0 0 1 648.90,246.3 L633.4,246.3 Z"/></clipPath><radialGradient id="rg33" gradientUnits="userSpaceOnUse" cx="635.67" cy="223.65" r="26.23" gradientTransform="translate(0,223.65) scale(1,1.2) translate(0,-223.65)"><stop offset="0.0000" stop-color="#c83414"/><stop offset="0.6760" stop-color="#b82e10"/><stop offset="0.7141" stop-color="#8a2010"/><stop offset="0.7713" stop-color="#2a0804"/><stop offset="0.8856" stop-color="#2a0804"/><stop offset="0.9428" stop-color="#5a1406"/><stop offset="1.0000" stop-color="#c83c18"/></radialGradient><clipPath id="c34"><path d="M711.4,201.0 L735.70,201.0 A36.06,36.06 0 0 1 735.70,246.3 L711.4,246.3 Z"/></clipPath><radialGradient id="rg34" gradientUnits="userSpaceOnUse" cx="707.64" cy="223.65" r="36.06" gradientTransform="translate(0,223.65) scale(1,1.25) translate(0,-223.65)"><stop offset="0.0000" stop-color="#c83410"/><stop offset="0.5286" stop-color="#a82a0c"/><stop offset="0.5563" stop-color="#5a1606"/><stop offset="0.7366" stop-color="#4a1005"/><stop offset="0.7920" stop-color="#2a0804"/><stop offset="0.8198" stop-color="#d0561a"/><stop offset="0.8891" stop-color="#2a0804"/><stop offset="0.9584" stop-color="#4a1206"/><stop offset="1.0000" stop-color="#d04818"/></radialGradient><clipPath id="c41"><path d="M482.0,250.6 L507.90,250.6 A33.40,33.40 0 0 1 507.90,294.9 L482.0,294.9 Z"/></clipPath><radialGradient id="rg41" gradientUnits="userSpaceOnUse" cx="482.90" cy="272.75" r="33.40" gradientTransform="translate(0,272.75) scale(1,1.2) translate(0,-272.75)"><stop offset="0.0000" stop-color="#6a1a08"/><stop offset="0.4611" stop-color="#4a1206"/><stop offset="0.5659" stop-color="#4a1206"/><stop offset="0.6108" stop-color="#c8481a"/><stop offset="0.6557" stop-color="#4a1206"/><stop offset="0.6857" stop-color="#3a0e05"/><stop offset="0.7156" stop-color="#8a2a0c"/><stop offset="0.7605" stop-color="#3a0e05"/><stop offset="0.8803" stop-color="#2a0a04"/><stop offset="0.9551" stop-color="#5a1606"/><stop offset="1.0000" stop-color="#c8401a"/></radialGradient><clipPath id="c42"><path d="M558.8,250.6 L581.70,250.6 A43.89,43.89 0 0 1 581.70,294.9 L558.8,294.9 Z"/></clipPath><radialGradient id="rg42" gradientUnits="userSpaceOnUse" cx="543.81" cy="272.75" r="43.89" gradientTransform="translate(0,272.75) scale(1,1.3) translate(0,-272.75)"><stop offset="0.0000" stop-color="#c03a18"/><stop offset="0.5443" stop-color="#8a2210"/><stop offset="0.6126" stop-color="#2a0804"/><stop offset="0.7038" stop-color="#3a0a04"/><stop offset="0.7266" stop-color="#f5c8b0"/><stop offset="0.7539" stop-color="#f8d8c8"/><stop offset="0.7767" stop-color="#8a2a12"/><stop offset="0.8177" stop-color="#5a1606"/><stop offset="0.8519" stop-color="#8a2410"/><stop offset="0.8861" stop-color="#6a1a08"/><stop offset="0.9430" stop-color="#a02c12"/><stop offset="1.0000" stop-color="#d04a1c"/></radialGradient><clipPath id="c43"><path d="M634.0,250.6 L649.90,250.6 A26.95,26.95 0 0 1 649.90,294.9 L634.0,294.9 Z"/></clipPath><radialGradient id="rg43" gradientUnits="userSpaceOnUse" cx="634.55" cy="272.75" r="26.95" gradientTransform="translate(0,272.75) scale(1,1.2) translate(0,-272.75)"><stop offset="0.0000" stop-color="#c83414"/><stop offset="0.6846" stop-color="#b82e10"/><stop offset="0.7217" stop-color="#8a2010"/><stop offset="0.7773" stop-color="#2a0804"/><stop offset="0.8887" stop-color="#2a0804"/><stop offset="0.9443" stop-color="#5a1406"/><stop offset="1.0000" stop-color="#c83c18"/></radialGradient><clipPath id="c44"><path d="M710.4,250.6 L733.70,250.6 A29.53,29.53 0 0 1 733.70,294.9 L710.4,294.9 Z"/></clipPath><radialGradient id="rg44" gradientUnits="userSpaceOnUse" cx="714.17" cy="272.75" r="29.53" gradientTransform="translate(0,272.75) scale(1,1.25) translate(0,-272.75)"><stop offset="0.0000" stop-color="#c83410"/><stop offset="0.4243" stop-color="#a82a0c"/><stop offset="0.4582" stop-color="#5a1606"/><stop offset="0.6783" stop-color="#4a1005"/><stop offset="0.7460" stop-color="#2a0804"/><stop offset="0.7799" stop-color="#d0561a"/><stop offset="0.8645" stop-color="#2a0804"/><stop offset="0.9492" stop-color="#4a1206"/><stop offset="1.0000" stop-color="#d04818"/></radialGradient><clipPath id="c51"><path d="M480.4,301.0 L510.90,301.0 A35.05,35.05 0 0 1 510.90,347.9 L480.4,347.9 Z"/></clipPath><radialGradient id="rg51" gradientUnits="userSpaceOnUse" cx="484.85" cy="324.45" r="35.05" gradientTransform="translate(0,324.45) scale(1,1.2) translate(0,-324.45)"><stop offset="0.0000" stop-color="#7a220c"/><stop offset="0.4864" stop-color="#4a1206"/><stop offset="0.5863" stop-color="#4a1206"/><stop offset="0.6205" stop-color="#f07828"/><stop offset="0.6491" stop-color="#5a1606"/><stop offset="0.7147" stop-color="#4a1206"/><stop offset="0.8288" stop-color="#3a0e05"/><stop offset="0.9001" stop-color="#7a200a"/><stop offset="0.9572" stop-color="#d8481a"/><stop offset="1.0000" stop-color="#f09060"/></radialGradient><clipPath id="c52"><path d="M557.8,301.0 L581.70,301.0 A48.83,48.83 0 0 1 581.70,347.9 L557.8,347.9 Z"/></clipPath><radialGradient id="rg52" gradientUnits="userSpaceOnUse" cx="538.87" cy="324.45" r="48.83" gradientTransform="translate(0,324.45) scale(1,1.0) translate(0,-324.45)"><stop offset="0.0000" stop-color="#b83214"/><stop offset="0.6723" stop-color="#a02c12"/><stop offset="0.7378" stop-color="#8a2410"/><stop offset="0.7583" stop-color="#f5d0b8"/><stop offset="0.7747" stop-color="#b83416"/><stop offset="0.8054" stop-color="#a02c12"/><stop offset="0.8566" stop-color="#5a1606"/><stop offset="0.8976" stop-color="#2a0804"/><stop offset="0.9386" stop-color="#5a1606"/><stop offset="0.9693" stop-color="#d8481a"/><stop offset="1.0000" stop-color="#f08a5a"/></radialGradient><clipPath id="c53"><path d="M633.4,301.0 L651.90,301.0 A28.91,28.91 0 0 1 651.90,347.9 L633.4,347.9 Z"/></clipPath><radialGradient id="rg53" gradientUnits="userSpaceOnUse" cx="634.99" cy="324.45" r="28.91" gradientTransform="translate(0,324.45) scale(1,1.2) translate(0,-324.45)"><stop offset="0.0000" stop-color="#c83414"/><stop offset="0.6714" stop-color="#b02a10"/><stop offset="0.7233" stop-color="#2a0804"/><stop offset="0.8962" stop-color="#3a0c04"/><stop offset="0.9481" stop-color="#d04818"/><stop offset="1.0000" stop-color="#f08a5a"/></radialGradient><clipPath id="c54"><path d="M709.2,301.0 L737.70,301.0 A42.78,42.78 0 0 1 737.70,347.9 L709.2,347.9 Z"/></clipPath><radialGradient id="rg54" gradientUnits="userSpaceOnUse" cx="701.92" cy="324.45" r="42.78" gradientTransform="translate(0,324.45) scale(1,1.25) translate(0,-324.45)"><stop offset="0.0000" stop-color="#c03410"/><stop offset="0.6026" stop-color="#a82a0c"/><stop offset="0.6260" stop-color="#5a1606"/><stop offset="0.7779" stop-color="#4a1005"/><stop offset="0.8247" stop-color="#2a0804"/><stop offset="0.8481" stop-color="#d0561a"/><stop offset="0.9065" stop-color="#4a1206"/><stop offset="0.9649" stop-color="#d8501a"/><stop offset="1.0000" stop-color="#f08a5a"/></radialGradient><clipPath id="c61"><path d="M480.4,354.0 L511.90,354.0 A35.18,35.18 0 0 1 511.90,401.0 L480.4,401.0 Z"/></clipPath><radialGradient id="rg61" gradientUnits="userSpaceOnUse" cx="485.72" cy="377.50" r="35.18" gradientTransform="translate(0,377.50) scale(1,1.2) translate(0,-377.50)"><stop offset="0.0000" stop-color="#7a220c"/><stop offset="0.4884" stop-color="#4a1206"/><stop offset="0.5878" stop-color="#4a1206"/><stop offset="0.6220" stop-color="#f07828"/><stop offset="0.6504" stop-color="#5a1606"/><stop offset="0.7158" stop-color="#4a1206"/><stop offset="0.8295" stop-color="#3a0e05"/><stop offset="0.9005" stop-color="#7a200a"/><stop offset="0.9574" stop-color="#d8481a"/><stop offset="1.0000" stop-color="#f09060"/></radialGradient><clipPath id="c62"><path d="M557.2,354.0 L583.70,354.0 A57.73,57.73 0 0 1 583.70,401.0 L557.2,401.0 Z"/></clipPath><radialGradient id="rg62" gradientUnits="userSpaceOnUse" cx="530.98" cy="377.50" r="57.73" gradientTransform="translate(0,377.50) scale(1,1.0) translate(0,-377.50)"><stop offset="0.0000" stop-color="#b83214"/><stop offset="0.7228" stop-color="#a02c12"/><stop offset="0.7783" stop-color="#8a2410"/><stop offset="0.7956" stop-color="#f5d0b8"/><stop offset="0.8094" stop-color="#b83416"/><stop offset="0.8354" stop-color="#a02c12"/><stop offset="0.8787" stop-color="#5a1606"/><stop offset="0.9134" stop-color="#2a0804"/><stop offset="0.9480" stop-color="#5a1606"/><stop offset="0.9740" stop-color="#d8481a"/><stop offset="1.0000" stop-color="#f08a5a"/></radialGradient><clipPath id="c63"><path d="M634.0,355.6 L651.90,355.6 A26.23,26.23 0 0 1 651.90,400.9 L634.0,400.9 Z"/></clipPath><radialGradient id="rg63" gradientUnits="userSpaceOnUse" cx="638.67" cy="378.25" r="26.23" gradientTransform="translate(0,378.25) scale(1,1.2) translate(0,-378.25)"><stop offset="0.0000" stop-color="#c83414"/><stop offset="0.6378" stop-color="#b02a10"/><stop offset="0.6950" stop-color="#2a0804"/><stop offset="0.8856" stop-color="#3a0c04"/><stop offset="0.9428" stop-color="#d04818"/><stop offset="1.0000" stop-color="#f08a5a"/></radialGradient><clipPath id="c64"><path d="M709.8,354.0 L737.70,354.0 A38.52,38.52 0 0 1 737.70,401.0 L709.8,401.0 Z"/></clipPath><radialGradient id="rg64" gradientUnits="userSpaceOnUse" cx="707.18" cy="377.50" r="38.52" gradientTransform="translate(0,377.50) scale(1,1.25) translate(0,-377.50)"><stop offset="0.0000" stop-color="#c03410"/><stop offset="0.5586" stop-color="#a82a0c"/><stop offset="0.5846" stop-color="#5a1606"/><stop offset="0.7533" stop-color="#4a1005"/><stop offset="0.8053" stop-color="#2a0804"/><stop offset="0.8312" stop-color="#d0561a"/><stop offset="0.8961" stop-color="#4a1206"/><stop offset="0.9611" stop-color="#d8501a"/><stop offset="1.0000" stop-color="#f08a5a"/></radialGradient></defs>
<rect x="479.1" y="43.6" width="63.6" height="49.6" fill="#fffff2"/>
<path d="M479.1,43.6 L499.90,43.6 A32.13,32.13 0 0 1 499.90,93.2 L479.1,93.2 Z" fill="url(#rg01)"/>
<g clip-path="url(#c01)">
<circle cx="482.1" cy="88.2" r="9" fill="#b8280a" opacity="0.5"/>
<circle cx="481.1" cy="89.2" r="5" fill="#e03a10" opacity="0.5"/>
</g>
<rect x="557.1" y="45.5" width="59.0" height="46.2" fill="#fffff2"/>
<path d="M557.1,45.5 L577.20,45.5 A46.79,46.79 0 0 1 577.20,91.7 L557.1,91.7 Z" fill="url(#rg02)"/>
<g clip-path="url(#c02)">
<path d="M557.1,91.7 L557.1,85.7 Q565.1,82.7 573.1,85.7 L575.1,91.7 Z" fill="#3a0c05" opacity="0.8"/>
</g>
<rect x="631.8" y="44.5" width="60.2" height="48.7" fill="#fffff2"/>
<path d="M631.8,44.5 L646.00,44.5 A28.94,28.94 0 0 1 646.00,93.2 L631.8,93.2 Z" fill="url(#rg03)"/>
<g clip-path="url(#c03)">
<circle cx="638.8" cy="51.8" r="0.64" fill="#f88060" opacity="0.75"/>
<circle cx="649.5" cy="49.1" r="0.61" fill="#ffb090" opacity="0.75"/>
<circle cx="636.4" cy="48.7" r="0.54" fill="#f88060" opacity="0.75"/>
<circle cx="633.8" cy="65.2" r="0.72" fill="#f88060" opacity="0.75"/>
<circle cx="652.2" cy="75.2" r="0.61" fill="#f88060" opacity="0.75"/>
<circle cx="644.2" cy="63.8" r="0.79" fill="#f88060" opacity="0.75"/>
<circle cx="643.8" cy="51.0" r="0.54" fill="#ffb090" opacity="0.75"/>
<circle cx="634.3" cy="59.5" r="0.72" fill="#f88060" opacity="0.75"/>
<circle cx="634.0" cy="72.3" r="0.43" fill="#f88060" opacity="0.75"/>
<circle cx="643.6" cy="47.6" r="0.38" fill="#f88060" opacity="0.75"/>
<circle cx="642.5" cy="70.4" r="0.70" fill="#a82a10" opacity="0.75"/>
<circle cx="644.4" cy="66.6" r="0.48" fill="#f88060" opacity="0.75"/>
<circle cx="646.8" cy="56.4" r="0.61" fill="#ffb090" opacity="0.75"/>
<circle cx="642.4" cy="61.2" r="0.55" fill="#ffb090" opacity="0.75"/>
<circle cx="652.9" cy="50.2" r="0.54" fill="#a82a10" opacity="0.75"/>
<circle cx="635.1" cy="68.3" r="0.37" fill="#ffb090" opacity="0.75"/>
<circle cx="633.5" cy="71.7" r="0.71" fill="#a82a10" opacity="0.75"/>
<circle cx="639.1" cy="61.6" r="0.57" fill="#a82a10" opacity="0.75"/>
<circle cx="633.3" cy="49.1" r="0.47" fill="#ffb090" opacity="0.75"/>
<circle cx="646.1" cy="47.5" r="0.67" fill="#ffb090" opacity="0.75"/>
<circle cx="644.2" cy="77.7" r="0.55" fill="#ffb090" opacity="0.75"/>
<circle cx="640.1" cy="77.1" r="0.36" fill="#a82a10" opacity="0.75"/>
<circle cx="639.4" cy="74.3" r="0.57" fill="#f88060" opacity="0.75"/>
<circle cx="648.3" cy="50.8" r="0.46" fill="#a82a10" opacity="0.75"/>
<circle cx="651.5" cy="68.7" r="0.42" fill="#a82a10" opacity="0.75"/>
<circle cx="643.6" cy="87.5" r="0.72" fill="#ffb090" opacity="0.75"/>
<circle cx="637.8" cy="64.7" r="0.51" fill="#a82a10" opacity="0.75"/>
<circle cx="652.4" cy="51.8" r="0.43" fill="#f88060" opacity="0.75"/>
<circle cx="646.0" cy="45.1" r="0.72" fill="#f88060" opacity="0.75"/>
<circle cx="637.4" cy="44.7" r="0.54" fill="#a82a10" opacity="0.75"/>
<circle cx="644.9" cy="60.0" r="0.41" fill="#ffb090" opacity="0.75"/>
<circle cx="652.2" cy="76.4" r="0.68" fill="#a82a10" opacity="0.75"/>
<circle cx="651.1" cy="82.5" r="0.74" fill="#ffb090" opacity="0.75"/>
<circle cx="640.2" cy="63.9" r="0.40" fill="#ffb090" opacity="0.75"/>
<circle cx="640.4" cy="53.8" r="0.79" fill="#a82a10" opacity="0.75"/>
<circle cx="635.3" cy="61.1" r="0.37" fill="#f88060" opacity="0.75"/>
<circle cx="644.0" cy="70.6" r="0.78" fill="#ffb090" opacity="0.75"/>
<circle cx="632.3" cy="87.1" r="0.63" fill="#f88060" opacity="0.75"/>
<circle cx="645.4" cy="91.0" r="0.62" fill="#a82a10" opacity="0.75"/>
<circle cx="634.4" cy="85.8" r="0.80" fill="#a82a10" opacity="0.75"/>
<circle cx="642.1" cy="59.7" r="0.41" fill="#ffb090" opacity="0.75"/>
<circle cx="639.2" cy="57.4" r="0.72" fill="#f88060" opacity="0.75"/>
<circle cx="642.9" cy="54.5" r="0.78" fill="#a82a10" opacity="0.75"/>
<circle cx="635.0" cy="71.0" r="0.36" fill="#ffb090" opacity="0.75"/>
<circle cx="638.2" cy="75.8" r="0.39" fill="#a82a10" opacity="0.75"/>
<circle cx="642.9" cy="88.7" r="0.51" fill="#f88060" opacity="0.75"/>
<circle cx="643.3" cy="82.4" r="0.50" fill="#f88060" opacity="0.75"/>
<circle cx="645.0" cy="82.9" r="0.69" fill="#f88060" opacity="0.75"/>
<circle cx="649.1" cy="84.4" r="0.68" fill="#f88060" opacity="0.75"/>
<circle cx="636.1" cy="68.5" r="0.68" fill="#f88060" opacity="0.75"/>
<circle cx="648.8" cy="67.5" r="0.44" fill="#ffb090" opacity="0.75"/>
<circle cx="652.4" cy="66.3" r="0.77" fill="#a82a10" opacity="0.75"/>
<circle cx="652.3" cy="62.3" r="0.45" fill="#f88060" opacity="0.75"/>
<circle cx="641.9" cy="60.9" r="0.57" fill="#ffb090" opacity="0.75"/>
<circle cx="649.9" cy="67.9" r="0.64" fill="#ffb090" opacity="0.75"/>
<circle cx="633.6" cy="76.7" r="0.76" fill="#ffb090" opacity="0.75"/>
<circle cx="647.9" cy="67.8" r="0.43" fill="#ffb090" opacity="0.75"/>
<circle cx="638.9" cy="83.5" r="0.79" fill="#a82a10" opacity="0.75"/>
<circle cx="641.8" cy="80.7" r="0.39" fill="#f88060" opacity="0.75"/>
<circle cx="635.5" cy="50.7" r="0.42" fill="#a82a10" opacity="0.75"/>
<rect x="631.8" y="44.5" width="1.5" height="48.7" fill="#2a0a04"/>
</g>
<rect x="708.4" y="44.9" width="60.6" height="48.3" fill="#fffff2"/>
<path d="M708.4,44.9 L732.50,44.9 A36.01,36.01 0 0 1 732.50,93.2 L708.4,93.2 Z" fill="url(#rg04)"/>
<g clip-path="url(#c04)">
<path d="M708.4,89.2 Q718.4,83.2 728.4,90.2 L728.4,93.2 L708.4,93.2 Z" fill="#2a0a04" opacity="0.8"/>
</g>
<rect x="482.0" y="99.0" width="56.8" height="45.9" fill="#fffff2"/>
<path d="M482.0,99.0 L505.90,99.0 A35.55,35.55 0 0 1 505.90,144.9 L482.0,144.9 Z" fill="url(#rg11)"/>
<g clip-path="url(#c11)">
<ellipse cx="478.75" cy="121.95" rx="22.55" ry="27.06" fill="none" stroke="url(#gb)" stroke-width="2.6" opacity="0.9"/>
<circle cx="484.0" cy="138.9" r="10" fill="#8a2008" opacity="0.45"/>
</g>
<rect x="557.8" y="99.0" width="57.8" height="46.0" fill="#fffff2"/>
<path d="M557.8,99.0 L578.70,99.0 A41.29,41.29 0 0 1 578.70,145.0 L557.8,145.0 Z" fill="url(#rg12)"/>
<g clip-path="url(#c12)">
<circle cx="560.8" cy="126.0" r="9" fill="#c83c18" opacity="0.55"/>
<ellipse cx="544.41" cy="122.00" rx="29.89" ry="38.85" fill="none" stroke="#e88a70" stroke-width="4" opacity="0.35"/>
<ellipse cx="544.41" cy="122.00" rx="29.89" ry="38.85" fill="none" stroke="#fbe0d0" stroke-width="1.8" opacity="0.9"/>
</g>
<rect x="634.0" y="99.0" width="57.8" height="46.0" fill="#fffff2"/>
<path d="M634.0,99.0 L649.90,99.0 A29.55,29.55 0 0 1 649.90,145.0 L634.0,145.0 Z" fill="url(#rg13)"/>
<g clip-path="url(#c13)">
<circle cx="650.9" cy="105.7" r="0.72" fill="#ffc0a0" opacity="0.75"/>
<circle cx="647.7" cy="115.1" r="0.60" fill="#7a1a06" opacity="0.75"/>
<circle cx="634.4" cy="135.8" r="0.68" fill="#e86848" opacity="0.75"/>
<circle cx="645.0" cy="141.9" r="0.55" fill="#7a1a06" opacity="0.75"/>
<circle cx="651.3" cy="108.7" r="0.46" fill="#d84a28" opacity="0.75"/>
<circle cx="644.5" cy="134.1" r="0.50" fill="#ffc0a0" opacity="0.75"/>
<circle cx="651.4" cy="101.8" r="0.68" fill="#ffc0a0" opacity="0.75"/>
<circle cx="647.8" cy="136.5" r="0.58" fill="#7a1a06" opacity="0.75"/>
<circle cx="645.1" cy="123.1" r="0.36" fill="#ffc0a0" opacity="0.75"/>
<circle cx="650.2" cy="127.0" r="0.70" fill="#7a1a06" opacity="0.75"/>
<circle cx="637.6" cy="120.8" r="0.68" fill="#e86848" opacity="0.75"/>
<circle cx="640.8" cy="122.8" r="0.60" fill="#e86848" opacity="0.75"/>
<circle cx="652.5" cy="101.6" r="0.44" fill="#e86848" opacity="0.75"/>
<circle cx="650.1" cy="122.4" r="0.60" fill="#e86848" opacity="0.75"/>
<circle cx="643.3" cy="127.2" r="0.58" fill="#7a1a06" opacity="0.75"/>
<circle cx="648.5" cy="119.8" r="0.59" fill="#ffc0a0" opacity="0.75"/>
<circle cx="644.6" cy="110.4" r="0.59" fill="#d84a28" opacity="0.75"/>
<circle cx="653.3" cy="140.1" r="0.44" fill="#ffc0a0" opacity="0.75"/>
<circle cx="636.9" cy="104.6" r="0.55" fill="#e86848" opacity="0.75"/>
<circle cx="648.0" cy="118.7" r="0.45" fill="#d84a28" opacity="0.75"/>
<circle cx="650.4" cy="140.3" r="0.42" fill="#d84a28" opacity="0.75"/>
<circle cx="637.0" cy="139.6" r="0.79" fill="#7a1a06" opacity="0.75"/>
<circle cx="649.6" cy="103.3" r="0.75" fill="#7a1a06" opacity="0.75"/>
<circle cx="654.7" cy="137.3" r="0.42" fill="#ffc0a0" opacity="0.75"/>
<circle cx="654.8" cy="117.6" r="0.54" fill="#d84a28" opacity="0.75"/>
<circle cx="640.7" cy="132.2" r="0.36" fill="#ffc0a0" opacity="0.75"/>
<circle cx="643.2" cy="99.8" r="0.50" fill="#d84a28" opacity="0.75"/>
<circle cx="644.7" cy="102.0" r="0.79" fill="#7a1a06" opacity="0.75"/>
<circle cx="654.3" cy="103.8" r="0.47" fill="#e86848" opacity="0.75"/>
<circle cx="652.9" cy="107.4" r="0.69" fill="#ffc0a0" opacity="0.75"/>
<circle cx="651.8" cy="130.1" r="0.78" fill="#ffc0a0" opacity="0.75"/>
<circle cx="637.1" cy="141.3" r="0.61" fill="#d84a28" opacity="0.75"/>
<circle cx="635.9" cy="101.6" r="0.66" fill="#ffc0a0" opacity="0.75"/>
<circle cx="652.7" cy="111.4" r="0.36" fill="#e86848" opacity="0.75"/>
<circle cx="650.8" cy="102.9" r="0.74" fill="#e86848" opacity="0.75"/>
<circle cx="639.5" cy="104.6" r="0.36" fill="#ffc0a0" opacity="0.75"/>
<circle cx="653.4" cy="111.3" r="0.41" fill="#7a1a06" opacity="0.75"/>
<circle cx="653.6" cy="143.6" r="0.47" fill="#7a1a06" opacity="0.75"/>
<circle cx="638.2" cy="113.4" r="0.49" fill="#7a1a06" opacity="0.75"/>
<circle cx="640.1" cy="122.0" r="0.43" fill="#d84a28" opacity="0.75"/>
<circle cx="650.8" cy="144.7" r="0.37" fill="#e86848" opacity="0.75"/>
<circle cx="649.3" cy="124.3" r="0.44" fill="#ffc0a0" opacity="0.75"/>
<circle cx="639.1" cy="119.6" r="0.65" fill="#ffc0a0" opacity="0.75"/>
<circle cx="647.7" cy="124.1" r="0.75" fill="#d84a28" opacity="0.75"/>
<circle cx="648.4" cy="144.2" r="0.50" fill="#7a1a06" opacity="0.75"/>
<circle cx="642.5" cy="115.0" r="0.37" fill="#7a1a06" opacity="0.75"/>
<circle cx="634.3" cy="127.8" r="0.75" fill="#ffc0a0" opacity="0.75"/>
<circle cx="637.4" cy="102.9" r="0.73" fill="#d84a28" opacity="0.75"/>
<circle cx="646.5" cy="130.9" r="0.37" fill="#7a1a06" opacity="0.75"/>
<circle cx="637.3" cy="119.5" r="0.47" fill="#d84a28" opacity="0.75"/>
<circle cx="654.3" cy="124.2" r="0.46" fill="#d84a28" opacity="0.75"/>
<circle cx="638.6" cy="107.4" r="0.50" fill="#e86848" opacity="0.75"/>
<circle cx="643.9" cy="122.1" r="0.44" fill="#e86848" opacity="0.75"/>
<circle cx="635.9" cy="136.6" r="0.41" fill="#e86848" opacity="0.75"/>
<circle cx="642.2" cy="112.8" r="0.63" fill="#e86848" opacity="0.75"/>
<circle cx="646.2" cy="123.3" r="0.69" fill="#ffc0a0" opacity="0.75"/>
<circle cx="650.0" cy="132.2" r="0.57" fill="#d84a28" opacity="0.75"/>
<circle cx="649.1" cy="128.6" r="0.37" fill="#ffc0a0" opacity="0.75"/>
<circle cx="649.3" cy="136.4" r="0.41" fill="#e86848" opacity="0.75"/>
<circle cx="651.3" cy="125.9" r="0.75" fill="#7a1a06" opacity="0.75"/>
<circle cx="635.8" cy="100.9" r="0.64" fill="#e86848" opacity="0.75"/>
<circle cx="641.9" cy="119.8" r="0.37" fill="#e86848" opacity="0.75"/>
<circle cx="647.1" cy="130.3" r="0.57" fill="#e86848" opacity="0.75"/>
<circle cx="643.6" cy="102.2" r="0.77" fill="#e86848" opacity="0.75"/>
<circle cx="647.8" cy="102.0" r="0.68" fill="#d84a28" opacity="0.75"/>
<circle cx="650.9" cy="137.9" r="0.46" fill="#7a1a06" opacity="0.75"/>
<circle cx="638.8" cy="128.9" r="0.56" fill="#ffc0a0" opacity="0.75"/>
<circle cx="635.6" cy="140.9" r="0.48" fill="#e86848" opacity="0.75"/>
<circle cx="646.9" cy="128.6" r="0.38" fill="#7a1a06" opacity="0.75"/>
<circle cx="640.9" cy="129.0" r="0.66" fill="#7a1a06" opacity="0.75"/>
<rect x="634.0" y="99.0" width="1.5" height="46.0" fill="#2a0a04"/>
</g>
<rect x="709.8" y="99.0" width="57.8" height="46.0" fill="#fffff2"/>
<path d="M709.8,99.0 L733.70,99.0 A37.06,37.06 0 0 1 733.70,145.0 L709.8,145.0 Z" fill="url(#rg14)"/>
<g clip-path="url(#c14)">
<circle cx="715.1" cy="97.4" r="0.8" fill="#2a0804"/>
<circle cx="725.6" cy="131.2" r="1.1" fill="#2a0804"/>
<circle cx="725.6" cy="110.5" r="1.0" fill="#2a0804"/>
<circle cx="730.9" cy="119.9" r="1.3" fill="#2a0804"/>
<circle cx="720.5" cy="108.0" r="1.3" fill="#2a0804"/>
<circle cx="714.4" cy="99.7" r="1.3" fill="#2a0804"/>
<circle cx="715.2" cy="144.0" r="0.8" fill="#2a0804"/>
<circle cx="721.0" cy="108.3" r="0.8" fill="#2a0804"/>
<circle cx="730.4" cy="127.1" r="1.0" fill="#2a0804"/>
<circle cx="716.9" cy="145.2" r="1.3" fill="#2a0804"/>
<circle cx="726.4" cy="122.5" r="1.2" fill="#2a0804"/>
<circle cx="722.0" cy="109.0" r="1.0" fill="#2a0804"/>
<circle cx="715.9" cy="97.4" r="1.0" fill="#2a0804"/>
<circle cx="729.7" cy="119.0" r="0.7" fill="#2a0804"/>
<circle cx="712.8" cy="135.0" r="7" fill="#f06a1c" opacity="0.5"/>
<path d="M709.8,141.0 Q719.8,135.0 729.8,142.0 L729.8,145.0 L709.8,145.0 Z" fill="#2a0a04" opacity="0.8"/>
</g>
<rect x="480.4" y="149.4" width="58.4" height="45.6" fill="#fffff2"/>
<path d="M480.4,149.4 L505.90,149.4 A31.87,31.87 0 0 1 505.90,195.0 L480.4,195.0 Z" fill="url(#rg21)"/>
<g clip-path="url(#c21)">
<ellipse cx="483.63" cy="172.20" rx="18.87" ry="22.65" fill="none" stroke="url(#gb)" stroke-width="2.6" opacity="0.9"/>
<circle cx="482.4" cy="189.0" r="10" fill="#8a2008" opacity="0.45"/>
</g>
<rect x="556.8" y="149.4" width="59.2" height="45.6" fill="#fffff2"/>
<path d="M556.8,149.4 L579.70,149.4 A40.63,40.63 0 0 1 579.70,195.0 L556.8,195.0 Z" fill="url(#rg22)"/>
<g clip-path="url(#c22)">
<circle cx="559.8" cy="176.2" r="9" fill="#c83c18" opacity="0.55"/>
<ellipse cx="546.07" cy="172.20" rx="29.23" ry="38.00" fill="none" stroke="#e88a70" stroke-width="4" opacity="0.35"/>
<ellipse cx="546.07" cy="172.20" rx="29.23" ry="38.00" fill="none" stroke="#fbe0d0" stroke-width="1.8" opacity="0.9"/>
</g>
<rect x="633.0" y="149.4" width="58.8" height="45.6" fill="#fffff2"/>
<path d="M633.0,149.4 L647.90,149.4 A26.49,26.49 0 0 1 647.90,195.0 L633.0,195.0 Z" fill="url(#rg23)"/>
<g clip-path="url(#c23)">
<circle cx="640.5" cy="163.8" r="0.73" fill="#e86848" opacity="0.75"/>
<circle cx="640.1" cy="164.8" r="0.53" fill="#7a1a06" opacity="0.75"/>
<circle cx="648.6" cy="190.5" r="0.48" fill="#d84a28" opacity="0.75"/>
<circle cx="634.4" cy="167.2" r="0.74" fill="#e86848" opacity="0.75"/>
<circle cx="640.9" cy="168.9" r="0.47" fill="#e86848" opacity="0.75"/>
<circle cx="639.1" cy="151.8" r="0.65" fill="#7a1a06" opacity="0.75"/>
<circle cx="638.5" cy="161.5" r="0.58" fill="#7a1a06" opacity="0.75"/>
<circle cx="649.9" cy="185.2" r="0.54" fill="#e86848" opacity="0.75"/>
<circle cx="650.8" cy="178.2" r="0.76" fill="#7a1a06" opacity="0.75"/>
<circle cx="648.8" cy="151.7" r="0.68" fill="#ffc0a0" opacity="0.75"/>
<circle cx="646.5" cy="155.7" r="0.74" fill="#ffc0a0" opacity="0.75"/>
<circle cx="634.1" cy="191.7" r="0.41" fill="#ffc0a0" opacity="0.75"/>
<circle cx="642.1" cy="162.2" r="0.47" fill="#d84a28" opacity="0.75"/>
<circle cx="641.9" cy="160.3" r="0.57" fill="#ffc0a0" opacity="0.75"/>
<circle cx="635.6" cy="178.7" r="0.38" fill="#ffc0a0" opacity="0.75"/>
<circle cx="645.1" cy="170.1" r="0.50" fill="#ffc0a0" opacity="0.75"/>
<circle cx="642.4" cy="174.4" r="0.46" fill="#7a1a06" opacity="0.75"/>
<circle cx="640.5" cy="153.6" r="0.46" fill="#d84a28" opacity="0.75"/>
<circle cx="650.7" cy="158.6" r="0.36" fill="#ffc0a0" opacity="0.75"/>
<circle cx="641.4" cy="183.4" r="0.44" fill="#d84a28" opacity="0.75"/>
<circle cx="640.4" cy="152.2" r="0.47" fill="#d84a28" opacity="0.75"/>
<circle cx="635.8" cy="172.4" r="0.63" fill="#7a1a06" opacity="0.75"/>
<circle cx="635.0" cy="190.3" r="0.52" fill="#ffc0a0" opacity="0.75"/>
<circle cx="642.5" cy="163.6" r="0.72" fill="#e86848" opacity="0.75"/>
<circle cx="635.8" cy="168.8" r="0.69" fill="#ffc0a0" opacity="0.75"/>
<circle cx="654.2" cy="171.7" r="0.38" fill="#ffc0a0" opacity="0.75"/>
<circle cx="654.3" cy="160.7" r="0.40" fill="#7a1a06" opacity="0.75"/>
<circle cx="636.3" cy="193.7" r="0.40" fill="#ffc0a0" opacity="0.75"/>
<circle cx="634.9" cy="184.8" r="0.35" fill="#7a1a06" opacity="0.75"/>
<circle cx="638.1" cy="191.3" r="0.64" fill="#d84a28" opacity="0.75"/>
<circle cx="654.1" cy="178.0" r="0.59" fill="#ffc0a0" opacity="0.75"/>
<circle cx="648.3" cy="154.5" r="0.38" fill="#7a1a06" opacity="0.75"/>
<circle cx="641.5" cy="159.6" r="0.62" fill="#e86848" opacity="0.75"/>
<circle cx="644.8" cy="194.8" r="0.48" fill="#d84a28" opacity="0.75"/>
<circle cx="647.1" cy="189.7" r="0.56" fill="#7a1a06" opacity="0.75"/>
<circle cx="645.0" cy="150.7" r="0.54" fill="#d84a28" opacity="0.75"/>
<circle cx="634.2" cy="158.3" r="0.75" fill="#ffc0a0" opacity="0.75"/>
<circle cx="634.8" cy="159.8" r="0.54" fill="#d84a28" opacity="0.75"/>
<circle cx="638.0" cy="151.0" r="0.50" fill="#ffc0a0" opacity="0.75"/>
<circle cx="640.9" cy="167.5" r="0.35" fill="#d84a28" opacity="0.75"/>
<circle cx="649.2" cy="172.4" r="0.44" fill="#7a1a06" opacity="0.75"/>
<circle cx="639.8" cy="186.8" r="0.45" fill="#7a1a06" opacity="0.75"/>
<circle cx="638.8" cy="190.0" r="0.40" fill="#ffc0a0" opacity="0.75"/>
<circle cx="646.4" cy="190.3" r="0.57" fill="#e86848" opacity="0.75"/>
<circle cx="653.8" cy="156.1" r="0.53" fill="#7a1a06" opacity="0.75"/>
<circle cx="633.5" cy="176.6" r="0.54" fill="#e86848" opacity="0.75"/>
<circle cx="637.0" cy="169.9" r="0.67" fill="#d84a28" opacity="0.75"/>
<circle cx="649.0" cy="194.9" r="0.77" fill="#d84a28" opacity="0.75"/>
<circle cx="637.2" cy="179.2" r="0.59" fill="#ffc0a0" opacity="0.75"/>
<circle cx="633.7" cy="179.7" r="0.52" fill="#d84a28" opacity="0.75"/>
<circle cx="654.6" cy="169.6" r="0.40" fill="#e86848" opacity="0.75"/>
<circle cx="639.1" cy="165.4" r="0.78" fill="#e86848" opacity="0.75"/>
<circle cx="645.3" cy="184.0" r="0.52" fill="#d84a28" opacity="0.75"/>
<circle cx="651.0" cy="169.1" r="0.37" fill="#ffc0a0" opacity="0.75"/>
<circle cx="637.3" cy="174.1" r="0.55" fill="#d84a28" opacity="0.75"/>
<circle cx="641.0" cy="190.3" r="0.36" fill="#ffc0a0" opacity="0.75"/>
<circle cx="638.4" cy="177.9" r="0.53" fill="#ffc0a0" opacity="0.75"/>
<circle cx="633.8" cy="152.3" r="0.76" fill="#d84a28" opacity="0.75"/>
<circle cx="637.3" cy="152.3" r="0.62" fill="#d84a28" opacity="0.75"/>
<circle cx="639.0" cy="193.1" r="0.63" fill="#d84a28" opacity="0.75"/>
<circle cx="649.3" cy="180.8" r="0.77" fill="#d84a28" opacity="0.75"/>
<circle cx="633.1" cy="183.9" r="0.76" fill="#e86848" opacity="0.75"/>
<circle cx="633.5" cy="160.1" r="0.56" fill="#ffc0a0" opacity="0.75"/>
<circle cx="653.9" cy="167.0" r="0.46" fill="#ffc0a0" opacity="0.75"/>
<circle cx="650.8" cy="155.5" r="0.57" fill="#e86848" opacity="0.75"/>
<circle cx="650.6" cy="183.1" r="0.72" fill="#7a1a06" opacity="0.75"/>
<circle cx="646.3" cy="164.3" r="0.49" fill="#d84a28" opacity="0.75"/>
<circle cx="650.2" cy="176.6" r="0.58" fill="#ffc0a0" opacity="0.75"/>
<circle cx="649.5" cy="160.7" r="0.38" fill="#e86848" opacity="0.75"/>
<circle cx="643.5" cy="174.2" r="0.42" fill="#ffc0a0" opacity="0.75"/>
<rect x="633.0" y="149.4" width="1.5" height="45.6" fill="#2a0a04"/>
</g>
<rect x="710.4" y="149.4" width="56.6" height="45.6" fill="#fffff2"/>
<path d="M710.4,149.4 L733.70,149.4 A33.38,33.38 0 0 1 733.70,195.0 L710.4,195.0 Z" fill="url(#rg24)"/>
<g clip-path="url(#c24)">
<circle cx="719.9" cy="186.1" r="0.8" fill="#2a0804"/>
<circle cx="721.7" cy="153.0" r="1.0" fill="#2a0804"/>
<circle cx="727.5" cy="182.2" r="0.8" fill="#2a0804"/>
<circle cx="728.6" cy="168.3" r="1.1" fill="#2a0804"/>
<circle cx="724.5" cy="182.5" r="1.1" fill="#2a0804"/>
<circle cx="720.6" cy="157.7" r="0.8" fill="#2a0804"/>
<circle cx="730.2" cy="175.6" r="1.2" fill="#2a0804"/>
<circle cx="725.8" cy="157.7" r="0.8" fill="#2a0804"/>
<circle cx="721.5" cy="158.8" r="1.1" fill="#2a0804"/>
<circle cx="728.5" cy="163.7" r="1.4" fill="#2a0804"/>
<circle cx="731.3" cy="172.6" r="1.2" fill="#2a0804"/>
<circle cx="725.6" cy="178.5" r="0.7" fill="#2a0804"/>
<circle cx="727.8" cy="171.1" r="1.3" fill="#2a0804"/>
<circle cx="721.9" cy="191.6" r="0.8" fill="#2a0804"/>
<circle cx="718.4" cy="170.2" r="2" fill="#2a0804"/>
<circle cx="713.4" cy="185.0" r="7" fill="#f06a1c" opacity="0.5"/>
<path d="M710.4,191.0 Q720.4,185.0 730.4,192.0 L730.4,195.0 L710.4,195.0 Z" fill="#2a0a04" opacity="0.8"/>
</g>
<rect x="481.0" y="201.0" width="57.8" height="45.3" fill="#fffff2"/>
<path d="M481.0,201.0 L506.90,201.0 A31.99,31.99 0 0 1 506.90,246.3 L481.0,246.3 Z" fill="url(#rg31)"/>
<g clip-path="url(#c31)">
<ellipse cx="484.31" cy="223.65" rx="18.99" ry="22.79" fill="none" stroke="url(#gb)" stroke-width="2.6" opacity="0.9"/>
<circle cx="483.0" cy="240.3" r="10" fill="#8a2008" opacity="0.45"/>
</g>
<rect x="557.8" y="201.0" width="58.2" height="45.3" fill="#fffff2"/>
<path d="M557.8,201.0 L580.70,201.0 A40.14,40.14 0 0 1 580.70,246.3 L557.8,246.3 Z" fill="url(#rg32)"/>
<g clip-path="url(#c32)">
<circle cx="560.8" cy="227.65" r="9" fill="#c83c18" opacity="0.55"/>
<ellipse cx="547.56" cy="223.65" rx="28.74" ry="37.37" fill="none" stroke="#e88a70" stroke-width="4" opacity="0.35"/>
<ellipse cx="547.56" cy="223.65" rx="28.74" ry="37.37" fill="none" stroke="#fbe0d0" stroke-width="1.8" opacity="0.9"/>
<circle cx="562.0" cy="206.8" r="1.7" fill="#ffe0d0"/>
<circle cx="566.6" cy="221.6" r="1.1" fill="#ffe0d0"/>
<circle cx="569.5" cy="212.0" r="1.0" fill="#ffe0d0"/>
<circle cx="568.6" cy="221.9" r="0.9" fill="#ffe0d0"/>
<circle cx="566.8" cy="215.4" r="1.0" fill="#ffe0d0"/>
<circle cx="564.5" cy="205.8" r="1.0" fill="#ffe0d0"/>
<circle cx="563.3" cy="215.0" r="1.4" fill="#ffe0d0"/>
</g>
<rect x="633.4" y="201.0" width="59.4" height="45.3" fill="#fffff2"/>
<path d="M633.4,201.0 L648.90,201.0 A26.23,26.23 0 0 1 648.90,246.3 L633.4,246.3 Z" fill="url(#rg33)"/>
<g clip-path="url(#c33)">
<circle cx="638.0" cy="201.5" r="0.50" fill="#d84a28" opacity="0.75"/>
<circle cx="637.6" cy="215.1" r="0.44" fill="#ffc0a0" opacity="0.75"/>
<circle cx="645.7" cy="203.9" r="0.40" fill="#ffc0a0" opacity="0.75"/>
<circle cx="648.3" cy="208.0" r="0.59" fill="#7a1a06" opacity="0.75"/>
<circle cx="642.3" cy="213.3" r="0.79" fill="#d84a28" opacity="0.75"/>
<circle cx="642.8" cy="203.3" r="0.69" fill="#d84a28" opacity="0.75"/>
<circle cx="642.7" cy="201.8" r="0.69" fill="#d84a28" opacity="0.75"/>
<circle cx="647.9" cy="218.7" r="0.53" fill="#e86848" opacity="0.75"/>
<circle cx="643.2" cy="208.1" r="0.40" fill="#e86848" opacity="0.75"/>
<circle cx="642.5" cy="241.0" r="0.56" fill="#7a1a06" opacity="0.75"/>
<circle cx="636.3" cy="203.3" r="0.41" fill="#ffc0a0" opacity="0.75"/>
<circle cx="635.4" cy="229.2" r="0.52" fill="#7a1a06" opacity="0.75"/>
<circle cx="636.7" cy="213.8" r="0.58" fill="#e86848" opacity="0.75"/>
<circle cx="635.8" cy="223.2" r="0.71" fill="#7a1a06" opacity="0.75"/>
<circle cx="640.2" cy="238.9" r="0.37" fill="#ffc0a0" opacity="0.75"/>
<circle cx="640.5" cy="228.5" r="0.64" fill="#e86848" opacity="0.75"/>
<circle cx="653.7" cy="229.1" r="0.72" fill="#7a1a06" opacity="0.75"/>
<circle cx="647.8" cy="239.8" r="0.63" fill="#7a1a06" opacity="0.75"/>
<circle cx="652.1" cy="209.3" r="0.45" fill="#ffc0a0" opacity="0.75"/>
<circle cx="654.5" cy="208.1" r="0.51" fill="#7a1a06" opacity="0.75"/>
<circle cx="639.0" cy="233.8" r="0.75" fill="#e86848" opacity="0.75"/>
<circle cx="653.3" cy="239.2" r="0.65" fill="#d84a28" opacity="0.75"/>
<circle cx="636.0" cy="228.2" r="0.60" fill="#d84a28" opacity="0.75"/>
<circle cx="648.0" cy="215.0" r="0.46" fill="#ffc0a0" opacity="0.75"/>
<circle cx="648.2" cy="221.2" r="0.55" fill="#e86848" opacity="0.75"/>
<circle cx="633.5" cy="245.7" r="0.56" fill="#ffc0a0" opacity="0.75"/>
<circle cx="650.6" cy="236.3" r="0.56" fill="#7a1a06" opacity="0.75"/>
<circle cx="651.6" cy="219.1" r="0.38" fill="#d84a28" opacity="0.75"/>
<circle cx="643.1" cy="205.2" r="0.55" fill="#e86848" opacity="0.75"/>
<circle cx="634.3" cy="206.9" r="0.76" fill="#d84a28" opacity="0.75"/>
<circle cx="650.9" cy="224.2" r="0.37" fill="#ffc0a0" opacity="0.75"/>
<circle cx="648.1" cy="236.5" r="0.36" fill="#e86848" opacity="0.75"/>
<circle cx="655.8" cy="234.2" r="0.72" fill="#7a1a06" opacity="0.75"/>
<circle cx="636.4" cy="241.1" r="0.48" fill="#7a1a06" opacity="0.75"/>
<circle cx="648.8" cy="233.7" r="0.45" fill="#d84a28" opacity="0.75"/>
<circle cx="647.1" cy="212.4" r="0.50" fill="#d84a28" opacity="0.75"/>
<circle cx="653.8" cy="221.7" r="0.46" fill="#ffc0a0" opacity="0.75"/>
<circle cx="638.1" cy="212.9" r="0.58" fill="#d84a28" opacity="0.75"/>
<circle cx="641.8" cy="210.0" r="0.53" fill="#d84a28" opacity="0.75"/>
<circle cx="648.7" cy="241.6" r="0.43" fill="#d84a28" opacity="0.75"/>
<circle cx="636.0" cy="225.0" r="0.64" fill="#d84a28" opacity="0.75"/>
<circle cx="655.1" cy="221.5" r="0.58" fill="#e86848" opacity="0.75"/>
<circle cx="639.1" cy="225.3" r="0.74" fill="#d84a28" opacity="0.75"/>
<circle cx="639.4" cy="245.9" r="0.61" fill="#d84a28" opacity="0.75"/>
<circle cx="640.8" cy="204.7" r="0.45" fill="#e86848" opacity="0.75"/>
<circle cx="640.1" cy="224.4" r="0.49" fill="#d84a28" opacity="0.75"/>
<circle cx="649.9" cy="234.8" r="0.45" fill="#d84a28" opacity="0.75"/>
<circle cx="647.3" cy="220.6" r="0.58" fill="#e86848" opacity="0.75"/>
<circle cx="636.4" cy="211.3" r="0.64" fill="#e86848" opacity="0.75"/>
<circle cx="634.6" cy="226.7" r="0.49" fill="#d84a28" opacity="0.75"/>
<circle cx="645.4" cy="219.7" r="0.49" fill="#7a1a06" opacity="0.75"/>
<circle cx="638.0" cy="229.3" r="0.56" fill="#7a1a06" opacity="0.75"/>
<circle cx="633.7" cy="237.3" r="0.67" fill="#ffc0a0" opacity="0.75"/>
<circle cx="635.6" cy="229.9" r="0.74" fill="#d84a28" opacity="0.75"/>
<circle cx="642.4" cy="213.0" r="0.36" fill="#d84a28" opacity="0.75"/>
<circle cx="646.8" cy="227.2" r="0.62" fill="#ffc0a0" opacity="0.75"/>
<circle cx="639.0" cy="241.9" r="0.37" fill="#e86848" opacity="0.75"/>
<circle cx="642.5" cy="211.8" r="0.38" fill="#e86848" opacity="0.75"/>
<circle cx="633.7" cy="226.0" r="0.77" fill="#7a1a06" opacity="0.75"/>
<circle cx="642.7" cy="224.5" r="0.64" fill="#ffc0a0" opacity="0.75"/>
<circle cx="651.7" cy="208.9" r="0.49" fill="#d84a28" opacity="0.75"/>
<circle cx="647.5" cy="246.0" r="0.68" fill="#ffc0a0" opacity="0.75"/>
<circle cx="649.5" cy="201.3" r="0.73" fill="#ffc0a0" opacity="0.75"/>
<circle cx="635.2" cy="230.7" r="0.43" fill="#e86848" opacity="0.75"/>
<circle cx="639.3" cy="230.2" r="0.41" fill="#d84a28" opacity="0.75"/>
<circle cx="649.4" cy="213.0" r="0.60" fill="#ffc0a0" opacity="0.75"/>
<circle cx="648.8" cy="242.6" r="0.79" fill="#d84a28" opacity="0.75"/>
<circle cx="647.8" cy="244.7" r="0.45" fill="#e86848" opacity="0.75"/>
<circle cx="637.2" cy="242.0" r="0.73" fill="#7a1a06" opacity="0.75"/>
<circle cx="654.7" cy="234.8" r="0.50" fill="#ffc0a0" opacity="0.75"/>
<rect x="633.4" y="201.0" width="1.5" height="45.3" fill="#2a0a04"/>
</g>
<rect x="711.4" y="201.0" width="55.6" height="45.3" fill="#fffff2"/>
<path d="M711.4,201.0 L735.70,201.0 A36.06,36.06 0 0 1 735.70,246.3 L711.4,246.3 Z" fill="url(#rg34)"/>
<g clip-path="url(#c34)">
<circle cx="730.2" cy="213.8" r="1.3" fill="#2a0804"/>
<circle cx="728.5" cy="230.4" r="1.1" fill="#2a0804"/>
<circle cx="717.1" cy="244.9" r="1.3" fill="#2a0804"/>
<circle cx="726.2" cy="233.2" r="0.9" fill="#2a0804"/>
<circle cx="727.1" cy="235.3" r="0.8" fill="#2a0804"/>
<circle cx="724.8" cy="209.4" r="0.7" fill="#2a0804"/>
<circle cx="721.5" cy="244.7" r="0.6" fill="#2a0804"/>
<circle cx="719.7" cy="207.1" r="0.9" fill="#2a0804"/>
<circle cx="724.5" cy="204.0" r="0.6" fill="#2a0804"/>
<circle cx="727.6" cy="233.6" r="1.2" fill="#2a0804"/>
<circle cx="729.3" cy="237.5" r="1.1" fill="#2a0804"/>
<circle cx="727.7" cy="216.8" r="1.3" fill="#2a0804"/>
<circle cx="722.8" cy="244.4" r="1.3" fill="#2a0804"/>
<circle cx="718.8" cy="240.8" r="0.7" fill="#2a0804"/>
<circle cx="719.4" cy="221.65" r="2" fill="#2a0804"/>
<circle cx="714.4" cy="236.3" r="7" fill="#f06a1c" opacity="0.5"/>
<path d="M711.4,242.3 Q721.4,236.3 731.4,243.3 L731.4,246.3 L711.4,246.3 Z" fill="#2a0a04" opacity="0.8"/>
</g>
<rect x="482.0" y="250.6" width="56.8" height="44.3" fill="#fffff2"/>
<path d="M482.0,250.6 L507.90,250.6 A33.40,33.40 0 0 1 507.90,294.9 L482.0,294.9 Z" fill="url(#rg41)"/>
<g clip-path="url(#c41)">
<ellipse cx="482.90" cy="272.75" rx="20.40" ry="24.48" fill="none" stroke="url(#gb)" stroke-width="2.6" opacity="0.9"/>
<circle cx="484.0" cy="288.9" r="10" fill="#8a2008" opacity="0.45"/>
</g>
<rect x="558.8" y="250.6" width="57.2" height="44.3" fill="#fffff2"/>
<path d="M558.8,250.6 L581.70,250.6 A43.89,43.89 0 0 1 581.70,294.9 L558.8,294.9 Z" fill="url(#rg42)"/>
<g clip-path="url(#c42)">
<circle cx="561.8" cy="276.75" r="9" fill="#c83c18" opacity="0.55"/>
<ellipse cx="543.81" cy="272.75" rx="32.49" ry="42.23" fill="none" stroke="#e88a70" stroke-width="4" opacity="0.35"/>
<ellipse cx="543.81" cy="272.75" rx="32.49" ry="42.23" fill="none" stroke="#fbe0d0" stroke-width="1.8" opacity="0.9"/>
<circle cx="563.9" cy="254.8" r="0.8" fill="#ffe0d0"/>
<circle cx="570.3" cy="268.8" r="1.4" fill="#ffe0d0"/>
<circle cx="570.1" cy="265.2" r="1.1" fill="#ffe0d0"/>
<circle cx="562.8" cy="254.6" r="1.5" fill="#ffe0d0"/>
<circle cx="563.8" cy="259.0" r="1.2" fill="#ffe0d0"/>
<circle cx="562.0" cy="257.7" r="1.1" fill="#ffe0d0"/>
<circle cx="569.0" cy="260.0" r="1.1" fill="#ffe0d0"/>
</g>
<rect x="634.0" y="250.6" width="58.0" height="44.3" fill="#fffff2"/>
<path d="M634.0,250.6 L649.90,250.6 A26.95,26.95 0 0 1 649.90,294.9 L634.0,294.9 Z" fill="url(#rg43)"/>
<g clip-path="url(#c43)">
<circle cx="654.7" cy="272.9" r="0.73" fill="#e86848" opacity="0.75"/>
<circle cx="651.0" cy="252.0" r="0.58" fill="#e86848" opacity="0.75"/>
<circle cx="641.5" cy="281.8" r="0.59" fill="#7a1a06" opacity="0.75"/>
<circle cx="649.4" cy="287.3" r="0.61" fill="#d84a28" opacity="0.75"/>
<circle cx="637.7" cy="250.7" r="0.44" fill="#e86848" opacity="0.75"/>
<circle cx="634.1" cy="272.3" r="0.57" fill="#7a1a06" opacity="0.75"/>
<circle cx="654.8" cy="276.9" r="0.78" fill="#d84a28" opacity="0.75"/>
<circle cx="646.4" cy="257.6" r="0.72" fill="#7a1a06" opacity="0.75"/>
<circle cx="644.7" cy="255.5" r="0.64" fill="#e86848" opacity="0.75"/>
<circle cx="644.5" cy="294.5" r="0.60" fill="#e86848" opacity="0.75"/>
<circle cx="647.5" cy="266.4" r="0.53" fill="#ffc0a0" opacity="0.75"/>
<circle cx="653.2" cy="283.6" r="0.54" fill="#e86848" opacity="0.75"/>
<circle cx="642.0" cy="264.0" r="0.54" fill="#7a1a06" opacity="0.75"/>
<circle cx="642.2" cy="289.8" r="0.46" fill="#ffc0a0" opacity="0.75"/>
<circle cx="636.7" cy="276.9" r="0.66" fill="#e86848" opacity="0.75"/>
<circle cx="641.5" cy="265.1" r="0.42" fill="#ffc0a0" opacity="0.75"/>
<circle cx="648.2" cy="283.5" r="0.43" fill="#ffc0a0" opacity="0.75"/>
<circle cx="648.8" cy="262.0" r="0.45" fill="#d84a28" opacity="0.75"/>
<circle cx="643.9" cy="289.8" r="0.46" fill="#7a1a06" opacity="0.75"/>
<circle cx="639.8" cy="284.0" r="0.72" fill="#7a1a06" opacity="0.75"/>
<circle cx="649.6" cy="293.8" r="0.68" fill="#d84a28" opacity="0.75"/>
<circle cx="637.5" cy="265.1" r="0.44" fill="#e86848" opacity="0.75"/>
<circle cx="637.5" cy="279.7" r="0.44" fill="#7a1a06" opacity="0.75"/>
<circle cx="655.2" cy="285.8" r="0.68" fill="#ffc0a0" opacity="0.75"/>
<circle cx="639.9" cy="255.4" r="0.76" fill="#d84a28" opacity="0.75"/>
<circle cx="638.4" cy="267.8" r="0.37" fill="#ffc0a0" opacity="0.75"/>
<circle cx="652.4" cy="269.9" r="0.45" fill="#d84a28" opacity="0.75"/>
<circle cx="644.0" cy="256.9" r="0.62" fill="#ffc0a0" opacity="0.75"/>
<circle cx="634.1" cy="261.3" r="0.73" fill="#ffc0a0" opacity="0.75"/>
<circle cx="652.2" cy="280.2" r="0.64" fill="#7a1a06" opacity="0.75"/>
<circle cx="648.6" cy="279.0" r="0.55" fill="#d84a28" opacity="0.75"/>
<circle cx="639.6" cy="281.6" r="0.75" fill="#7a1a06" opacity="0.75"/>
<circle cx="650.8" cy="282.2" r="0.63" fill="#d84a28" opacity="0.75"/>
<circle cx="652.3" cy="272.0" r="0.36" fill="#ffc0a0" opacity="0.75"/>
<circle cx="645.1" cy="279.9" r="0.74" fill="#d84a28" opacity="0.75"/>
<circle cx="650.7" cy="267.8" r="0.57" fill="#e86848" opacity="0.75"/>
<circle cx="634.8" cy="274.7" r="0.42" fill="#7a1a06" opacity="0.75"/>
<circle cx="645.2" cy="255.1" r="0.61" fill="#7a1a06" opacity="0.75"/>
<circle cx="649.4" cy="273.3" r="0.64" fill="#d84a28" opacity="0.75"/>
<circle cx="645.2" cy="268.8" r="0.78" fill="#7a1a06" opacity="0.75"/>
<circle cx="655.3" cy="258.7" r="0.58" fill="#e86848" opacity="0.75"/>
<circle cx="649.7" cy="277.8" r="0.64" fill="#d84a28" opacity="0.75"/>
<circle cx="639.9" cy="268.3" r="0.36" fill="#ffc0a0" opacity="0.75"/>
<circle cx="653.7" cy="278.4" r="0.65" fill="#d84a28" opacity="0.75"/>
<circle cx="636.3" cy="264.0" r="0.53" fill="#7a1a06" opacity="0.75"/>
<circle cx="655.4" cy="293.2" r="0.56" fill="#7a1a06" opacity="0.75"/>
<circle cx="636.8" cy="285.0" r="0.71" fill="#7a1a06" opacity="0.75"/>
<circle cx="644.1" cy="275.5" r="0.45" fill="#7a1a06" opacity="0.75"/>
<circle cx="641.6" cy="278.9" r="0.72" fill="#ffc0a0" opacity="0.75"/>
<circle cx="644.1" cy="263.6" r="0.60" fill="#7a1a06" opacity="0.75"/>
<circle cx="650.8" cy="271.4" r="0.70" fill="#7a1a06" opacity="0.75"/>
<circle cx="639.7" cy="267.3" r="0.46" fill="#ffc0a0" opacity="0.75"/>
<circle cx="648.6" cy="271.9" r="0.71" fill="#d84a28" opacity="0.75"/>
<circle cx="641.7" cy="279.6" r="0.49" fill="#ffc0a0" opacity="0.75"/>
<circle cx="643.2" cy="278.8" r="0.65" fill="#d84a28" opacity="0.75"/>
<circle cx="637.3" cy="264.0" r="0.52" fill="#e86848" opacity="0.75"/>
<circle cx="651.8" cy="290.7" r="0.70" fill="#7a1a06" opacity="0.75"/>
<circle cx="645.4" cy="265.9" r="0.61" fill="#e86848" opacity="0.75"/>
<circle cx="638.5" cy="253.8" r="0.48" fill="#e86848" opacity="0.75"/>
<circle cx="646.4" cy="288.4" r="0.43" fill="#ffc0a0" opacity="0.75"/>
<circle cx="641.4" cy="257.4" r="0.76" fill="#7a1a06" opacity="0.75"/>
<circle cx="647.1" cy="281.1" r="0.79" fill="#e86848" opacity="0.75"/>
<circle cx="648.4" cy="290.2" r="0.70" fill="#d84a28" opacity="0.75"/>
<circle cx="638.2" cy="281.3" r="0.59" fill="#ffc0a0" opacity="0.75"/>
<circle cx="648.4" cy="255.8" r="0.40" fill="#ffc0a0" opacity="0.75"/>
<circle cx="639.0" cy="256.8" r="0.57" fill="#e86848" opacity="0.75"/>
<circle cx="644.4" cy="290.7" r="0.67" fill="#7a1a06" opacity="0.75"/>
<circle cx="644.7" cy="274.5" r="0.74" fill="#e86848" opacity="0.75"/>
<circle cx="637.4" cy="264.8" r="0.66" fill="#ffc0a0" opacity="0.75"/>
<circle cx="648.3" cy="287.8" r="0.52" fill="#ffc0a0" opacity="0.75"/>
<rect x="634.0" y="250.6" width="1.5" height="44.3" fill="#2a0a04"/>
</g>
<rect x="710.4" y="250.6" width="56.6" height="44.3" fill="#fffff2"/>
<path d="M710.4,250.6 L733.70,250.6 A29.53,29.53 0 0 1 733.70,294.9 L710.4,294.9 Z" fill="url(#rg44)"/>
<g clip-path="url(#c44)">
<circle cx="719.8" cy="287.2" r="0.7" fill="#2a0804"/>
<circle cx="729.0" cy="267.6" r="0.6" fill="#2a0804"/>
<circle cx="721.2" cy="259.4" r="1.4" fill="#2a0804"/>
<circle cx="728.2" cy="285.5" r="1.0" fill="#2a0804"/>
<circle cx="729.4" cy="283.6" r="0.8" fill="#2a0804"/>
<circle cx="732.6" cy="269.0" r="0.7" fill="#2a0804"/>
<circle cx="730.4" cy="279.3" r="1.2" fill="#2a0804"/>
<circle cx="728.1" cy="274.6" r="0.8" fill="#2a0804"/>
<circle cx="730.9" cy="266.1" r="0.6" fill="#2a0804"/>
<circle cx="729.4" cy="264.3" r="1.0" fill="#2a0804"/>
<circle cx="726.7" cy="267.5" r="1.3" fill="#2a0804"/>
<circle cx="731.2" cy="266.1" r="1.0" fill="#2a0804"/>
<circle cx="725.3" cy="258.2" r="1.2" fill="#2a0804"/>
<circle cx="722.7" cy="262.1" r="0.7" fill="#2a0804"/>
<circle cx="718.4" cy="270.75" r="2" fill="#2a0804"/>
<circle cx="713.4" cy="284.9" r="7" fill="#f06a1c" opacity="0.5"/>
<path d="M710.4,290.9 Q720.4,284.9 730.4,291.9 L730.4,294.9 L710.4,294.9 Z" fill="#2a0a04" opacity="0.8"/>
</g>
<rect x="480.4" y="301.0" width="59.4" height="46.9" fill="#fffff2"/>
<path d="M480.4,301.0 L510.90,301.0 A35.05,35.05 0 0 1 510.90,347.9 L480.4,347.9 Z" fill="url(#rg51)"/>
<g clip-path="url(#c51)">
<ellipse cx="484.85" cy="324.45" rx="21.75" ry="26.10" fill="none" stroke="#e8661e" stroke-width="2.0" opacity="1"/>
<ellipse cx="484.85" cy="324.45" rx="21.75" ry="26.10" fill="none" stroke="url(#gb)" stroke-width="2.4" opacity="0.7"/>
</g>
<rect x="557.8" y="301.0" width="58.2" height="46.9" fill="#fffff2"/>
<path d="M557.8,301.0 L581.70,301.0 A48.83,48.83 0 0 1 581.70,347.9 L557.8,347.9 Z" fill="url(#rg52)"/>
<g clip-path="url(#c52)">
<circle cx="560.8" cy="328.45" r="9" fill="#c83c18" opacity="0.55"/>
<ellipse cx="538.87" cy="324.45" rx="37.43" ry="37.43" fill="none" stroke="#e88a70" stroke-width="4" opacity="0.35"/>
<ellipse cx="538.87" cy="324.45" rx="37.43" ry="37.43" fill="none" stroke="#fbe0d0" stroke-width="1.8" opacity="0.9"/>
<circle cx="570.8" cy="311.0" r="1.3" fill="#ffe0d0"/>
<circle cx="564.9" cy="314.5" r="1.2" fill="#ffe0d0"/>
<circle cx="561.9" cy="303.9" r="1.5" fill="#ffe0d0"/>
<circle cx="565.6" cy="318.3" r="0.9" fill="#ffe0d0"/>
<circle cx="565.8" cy="313.9" r="1.1" fill="#ffe0d0"/>
<circle cx="562.3" cy="316.5" r="1.4" fill="#ffe0d0"/>
<circle cx="569.6" cy="304.7" r="0.8" fill="#ffe0d0"/>
</g>
<rect x="633.4" y="301.0" width="58.6" height="46.9" fill="#fffff2"/>
<path d="M633.4,301.0 L651.90,301.0 A28.91,28.91 0 0 1 651.90,347.9 L633.4,347.9 Z" fill="url(#rg53)"/>
<g clip-path="url(#c53)">
<circle cx="648.9" cy="330.3" r="0.43" fill="#7a1a06" opacity="0.75"/>
<circle cx="654.7" cy="320.8" r="0.40" fill="#e86848" opacity="0.75"/>
<circle cx="642.4" cy="339.6" r="0.70" fill="#d84a28" opacity="0.75"/>
<circle cx="654.5" cy="309.7" r="0.37" fill="#e86848" opacity="0.75"/>
<circle cx="644.0" cy="331.1" r="0.77" fill="#e86848" opacity="0.75"/>
<circle cx="645.6" cy="325.5" r="0.72" fill="#ffc0a0" opacity="0.75"/>
<circle cx="647.5" cy="344.1" r="0.55" fill="#e86848" opacity="0.75"/>
<circle cx="650.1" cy="328.9" r="0.80" fill="#7a1a06" opacity="0.75"/>
<circle cx="645.0" cy="320.3" r="0.40" fill="#ffc0a0" opacity="0.75"/>
<circle cx="638.6" cy="308.1" r="0.36" fill="#e86848" opacity="0.75"/>
<circle cx="633.6" cy="332.4" r="0.79" fill="#e86848" opacity="0.75"/>
<circle cx="638.7" cy="306.7" r="0.56" fill="#d84a28" opacity="0.75"/>
<circle cx="651.0" cy="312.4" r="0.68" fill="#7a1a06" opacity="0.75"/>
<circle cx="656.0" cy="318.2" r="0.69" fill="#7a1a06" opacity="0.75"/>
<circle cx="651.3" cy="305.0" r="0.63" fill="#ffc0a0" opacity="0.75"/>
<circle cx="644.7" cy="344.7" r="0.46" fill="#e86848" opacity="0.75"/>
<circle cx="651.0" cy="301.5" r="0.36" fill="#e86848" opacity="0.75"/>
<circle cx="642.9" cy="315.7" r="0.62" fill="#ffc0a0" opacity="0.75"/>
<circle cx="648.3" cy="315.8" r="0.78" fill="#ffc0a0" opacity="0.75"/>
<circle cx="644.9" cy="308.8" r="0.78" fill="#e86848" opacity="0.75"/>
<circle cx="642.3" cy="331.2" r="0.63" fill="#ffc0a0" opacity="0.75"/>
<circle cx="645.1" cy="337.5" r="0.55" fill="#d84a28" opacity="0.75"/>
<circle cx="652.6" cy="327.6" r="0.48" fill="#e86848" opacity="0.75"/>
<circle cx="648.6" cy="331.5" r="0.71" fill="#d84a28" opacity="0.75"/>
<circle cx="654.7" cy="335.0" r="0.36" fill="#7a1a06" opacity="0.75"/>
<circle cx="648.1" cy="315.5" r="0.54" fill="#7a1a06" opacity="0.75"/>
<circle cx="642.6" cy="333.1" r="0.62" fill="#7a1a06" opacity="0.75"/>
<circle cx="653.2" cy="314.3" r="0.35" fill="#d84a28" opacity="0.75"/>
<circle cx="640.0" cy="308.4" r="0.76" fill="#e86848" opacity="0.75"/>
<circle cx="640.5" cy="307.6" r="0.75" fill="#7a1a06" opacity="0.75"/>
<circle cx="640.1" cy="340.9" r="0.71" fill="#ffc0a0" opacity="0.75"/>
<circle cx="641.9" cy="305.0" r="0.60" fill="#ffc0a0" opacity="0.75"/>
<circle cx="638.3" cy="336.2" r="0.77" fill="#7a1a06" opacity="0.75"/>
<circle cx="641.0" cy="303.7" r="0.53" fill="#7a1a06" opacity="0.75"/>
<circle cx="656.1" cy="328.5" r="0.35" fill="#ffc0a0" opacity="0.75"/>
<circle cx="644.7" cy="305.1" r="0.71" fill="#e86848" opacity="0.75"/>
<circle cx="639.1" cy="328.2" r="0.75" fill="#d84a28" opacity="0.75"/>
<circle cx="645.1" cy="328.6" r="0.44" fill="#7a1a06" opacity="0.75"/>
<circle cx="635.7" cy="338.8" r="0.48" fill="#d84a28" opacity="0.75"/>
<circle cx="643.3" cy="325.3" r="0.42" fill="#e86848" opacity="0.75"/>
<circle cx="656.0" cy="324.1" r="0.74" fill="#d84a28" opacity="0.75"/>
<circle cx="648.9" cy="337.9" r="0.42" fill="#e86848" opacity="0.75"/>
<circle cx="641.9" cy="325.4" r="0.36" fill="#e86848" opacity="0.75"/>
<circle cx="638.4" cy="341.8" r="0.60" fill="#7a1a06" opacity="0.75"/>
<circle cx="639.8" cy="337.5" r="0.54" fill="#ffc0a0" opacity="0.75"/>
<circle cx="652.2" cy="339.4" r="0.78" fill="#d84a28" opacity="0.75"/>
<circle cx="654.1" cy="316.9" r="0.80" fill="#ffc0a0" opacity="0.75"/>
<circle cx="635.4" cy="303.4" r="0.60" fill="#ffc0a0" opacity="0.75"/>
<circle cx="645.3" cy="340.7" r="0.75" fill="#ffc0a0" opacity="0.75"/>
<circle cx="656.0" cy="334.1" r="0.39" fill="#d84a28" opacity="0.75"/>
<circle cx="647.2" cy="331.0" r="0.78" fill="#ffc0a0" opacity="0.75"/>
<circle cx="637.9" cy="340.9" r="0.52" fill="#7a1a06" opacity="0.75"/>
<circle cx="657.7" cy="311.4" r="0.37" fill="#d84a28" opacity="0.75"/>
<circle cx="656.5" cy="303.8" r="0.60" fill="#e86848" opacity="0.75"/>
<circle cx="653.9" cy="303.2" r="0.70" fill="#ffc0a0" opacity="0.75"/>
<circle cx="634.8" cy="307.8" r="0.69" fill="#7a1a06" opacity="0.75"/>
<circle cx="650.0" cy="315.0" r="0.62" fill="#e86848" opacity="0.75"/>
<circle cx="644.9" cy="318.4" r="0.53" fill="#d84a28" opacity="0.75"/>
<circle cx="645.2" cy="308.9" r="0.46" fill="#7a1a06" opacity="0.75"/>
<circle cx="655.8" cy="342.8" r="0.56" fill="#7a1a06" opacity="0.75"/>
<circle cx="653.0" cy="308.4" r="0.72" fill="#e86848" opacity="0.75"/>
<circle cx="656.3" cy="341.7" r="0.75" fill="#7a1a06" opacity="0.75"/>
<circle cx="652.5" cy="345.9" r="0.77" fill="#ffc0a0" opacity="0.75"/>
<circle cx="654.0" cy="330.5" r="0.55" fill="#d84a28" opacity="0.75"/>
<circle cx="641.3" cy="312.0" r="0.40" fill="#d84a28" opacity="0.75"/>
<circle cx="636.9" cy="311.4" r="0.38" fill="#ffc0a0" opacity="0.75"/>
<circle cx="647.0" cy="307.8" r="0.74" fill="#d84a28" opacity="0.75"/>
<circle cx="643.6" cy="312.6" r="0.36" fill="#d84a28" opacity="0.75"/>
<circle cx="641.6" cy="308.9" r="0.57" fill="#d84a28" opacity="0.75"/>
<circle cx="644.6" cy="323.6" r="0.42" fill="#e86848" opacity="0.75"/>
<rect x="633.4" y="301.0" width="1.5" height="46.9" fill="#2a0a04"/>
</g>
<rect x="709.2" y="301.0" width="57.8" height="46.9" fill="#fffff2"/>
<path d="M709.2,301.0 L737.70,301.0 A42.78,42.78 0 0 1 737.70,347.9 L709.2,347.9 Z" fill="url(#rg54)"/>
<g clip-path="url(#c54)">
<circle cx="728.6" cy="333.1" r="1.3" fill="#2a0804"/>
<circle cx="729.4" cy="328.4" r="0.7" fill="#2a0804"/>
<circle cx="724.0" cy="339.9" r="0.9" fill="#2a0804"/>
<circle cx="728.3" cy="307.5" r="0.8" fill="#2a0804"/>
<circle cx="731.2" cy="316.6" r="0.7" fill="#2a0804"/>
<circle cx="720.7" cy="343.7" r="0.7" fill="#2a0804"/>
<circle cx="730.4" cy="334.4" r="1.0" fill="#2a0804"/>
<circle cx="732.0" cy="325.2" r="1.2" fill="#2a0804"/>
<circle cx="717.0" cy="351.6" r="0.9" fill="#2a0804"/>
<circle cx="715.6" cy="297.4" r="0.8" fill="#2a0804"/>
<circle cx="721.9" cy="305.2" r="1.0" fill="#2a0804"/>
<circle cx="727.2" cy="305.3" r="1.1" fill="#2a0804"/>
<circle cx="721.2" cy="343.9" r="1.2" fill="#2a0804"/>
<circle cx="727.6" cy="343.1" r="0.7" fill="#2a0804"/>
<circle cx="717.2" cy="322.45" r="2" fill="#2a0804"/>
<circle cx="712.2" cy="337.9" r="7" fill="#f06a1c" opacity="0.5"/>
<path d="M709.2,343.9 Q719.2,337.9 729.2,344.9 L729.2,347.9 L709.2,347.9 Z" fill="#2a0a04" opacity="0.8"/>
</g>
<rect x="480.4" y="354.0" width="59.4" height="47.0" fill="#fffff2"/>
<path d="M480.4,354.0 L511.90,354.0 A35.18,35.18 0 0 1 511.90,401.0 L480.4,401.0 Z" fill="url(#rg61)"/>
<g clip-path="url(#c61)">
<ellipse cx="485.72" cy="377.50" rx="21.88" ry="26.26" fill="none" stroke="#e8661e" stroke-width="2.0" opacity="1"/>
<ellipse cx="485.72" cy="377.50" rx="21.88" ry="26.26" fill="none" stroke="url(#gb)" stroke-width="2.4" opacity="0.7"/>
</g>
<rect x="557.2" y="354.0" width="58.8" height="47.0" fill="#fffff2"/>
<path d="M557.2,354.0 L583.70,354.0 A57.73,57.73 0 0 1 583.70,401.0 L557.2,401.0 Z" fill="url(#rg62)"/>
<g clip-path="url(#c62)">
<circle cx="560.2" cy="381.5" r="9" fill="#c83c18" opacity="0.55"/>
<ellipse cx="530.98" cy="377.50" rx="46.33" ry="46.33" fill="none" stroke="#e88a70" stroke-width="4" opacity="0.35"/>
<ellipse cx="530.98" cy="377.50" rx="46.33" ry="46.33" fill="none" stroke="#fbe0d0" stroke-width="1.8" opacity="0.9"/>
<circle cx="566.9" cy="368.6" r="1.0" fill="#ffe0d0"/>
<circle cx="563.3" cy="356.2" r="1.4" fill="#ffe0d0"/>
<circle cx="565.4" cy="372.8" r="1.6" fill="#ffe0d0"/>
<circle cx="565.4" cy="363.0" r="1.1" fill="#ffe0d0"/>
<circle cx="566.6" cy="374.9" r="0.9" fill="#ffe0d0"/>
<circle cx="564.3" cy="371.3" r="0.9" fill="#ffe0d0"/>
<circle cx="566.9" cy="361.0" r="1.3" fill="#ffe0d0"/>
</g>
<rect x="634.0" y="355.6" width="58.0" height="45.3" fill="#fffff2"/>
<path d="M634.0,355.6 L651.90,355.6 A26.23,26.23 0 0 1 651.90,400.9 L634.0,400.9 Z" fill="url(#rg63)"/>
<g clip-path="url(#c63)">
<circle cx="658.5" cy="357.3" r="0.67" fill="#e86848" opacity="0.75"/>
<circle cx="642.9" cy="397.8" r="0.79" fill="#e86848" opacity="0.75"/>
<circle cx="637.0" cy="388.0" r="0.72" fill="#d84a28" opacity="0.75"/>
<circle cx="653.4" cy="394.9" r="0.61" fill="#e86848" opacity="0.75"/>
<circle cx="641.3" cy="360.5" r="0.68" fill="#ffc0a0" opacity="0.75"/>
<circle cx="646.8" cy="379.6" r="0.59" fill="#e86848" opacity="0.75"/>
<circle cx="640.1" cy="359.6" r="0.63" fill="#7a1a06" opacity="0.75"/>
<circle cx="636.6" cy="366.9" r="0.72" fill="#e86848" opacity="0.75"/>
<circle cx="634.5" cy="397.6" r="0.68" fill="#d84a28" opacity="0.75"/>
<circle cx="634.4" cy="382.8" r="0.61" fill="#7a1a06" opacity="0.75"/>
<circle cx="651.5" cy="360.3" r="0.74" fill="#7a1a06" opacity="0.75"/>
<circle cx="635.1" cy="361.2" r="0.57" fill="#d84a28" opacity="0.75"/>
<circle cx="636.7" cy="361.1" r="0.75" fill="#7a1a06" opacity="0.75"/>
<circle cx="655.4" cy="362.3" r="0.61" fill="#ffc0a0" opacity="0.75"/>
<circle cx="638.1" cy="393.0" r="0.77" fill="#ffc0a0" opacity="0.75"/>
<circle cx="651.3" cy="382.6" r="0.62" fill="#e86848" opacity="0.75"/>
<circle cx="643.9" cy="398.2" r="0.70" fill="#d84a28" opacity="0.75"/>
<circle cx="644.0" cy="393.6" r="0.67" fill="#d84a28" opacity="0.75"/>
<circle cx="654.3" cy="394.0" r="0.37" fill="#7a1a06" opacity="0.75"/>
<circle cx="657.9" cy="397.9" r="0.46" fill="#ffc0a0" opacity="0.75"/>
<circle cx="650.5" cy="356.1" r="0.40" fill="#7a1a06" opacity="0.75"/>
<circle cx="635.7" cy="375.2" r="0.58" fill="#e86848" opacity="0.75"/>
<circle cx="639.6" cy="374.7" r="0.53" fill="#ffc0a0" opacity="0.75"/>
<circle cx="649.8" cy="392.3" r="0.75" fill="#e86848" opacity="0.75"/>
<circle cx="634.9" cy="384.7" r="0.47" fill="#d84a28" opacity="0.75"/>
<circle cx="649.6" cy="392.1" r="0.37" fill="#e86848" opacity="0.75"/>
<circle cx="640.2" cy="379.2" r="0.55" fill="#e86848" opacity="0.75"/>
<circle cx="641.2" cy="369.4" r="0.64" fill="#e86848" opacity="0.75"/>
<circle cx="635.5" cy="399.0" r="0.76" fill="#d84a28" opacity="0.75"/>
<circle cx="636.1" cy="382.3" r="0.77" fill="#ffc0a0" opacity="0.75"/>
<circle cx="637.1" cy="361.6" r="0.48" fill="#ffc0a0" opacity="0.75"/>
<circle cx="648.4" cy="368.0" r="0.68" fill="#d84a28" opacity="0.75"/>
<circle cx="654.9" cy="383.2" r="0.61" fill="#ffc0a0" opacity="0.75"/>
<circle cx="639.0" cy="387.8" r="0.56" fill="#d84a28" opacity="0.75"/>
<circle cx="649.3" cy="376.8" r="0.49" fill="#7a1a06" opacity="0.75"/>
<circle cx="642.3" cy="364.2" r="0.60" fill="#ffc0a0" opacity="0.75"/>
<circle cx="634.3" cy="371.6" r="0.74" fill="#7a1a06" opacity="0.75"/>
<circle cx="642.1" cy="370.3" r="0.47" fill="#7a1a06" opacity="0.75"/>
<circle cx="641.4" cy="390.6" r="0.42" fill="#e86848" opacity="0.75"/>
<circle cx="649.1" cy="371.4" r="0.65" fill="#ffc0a0" opacity="0.75"/>
<circle cx="654.8" cy="371.6" r="0.69" fill="#7a1a06" opacity="0.75"/>
<circle cx="658.6" cy="386.3" r="0.77" fill="#ffc0a0" opacity="0.75"/>
<circle cx="642.4" cy="371.6" r="0.65" fill="#d84a28" opacity="0.75"/>
<circle cx="654.4" cy="379.1" r="0.68" fill="#ffc0a0" opacity="0.75"/>
<circle cx="640.7" cy="384.2" r="0.63" fill="#7a1a06" opacity="0.75"/>
<circle cx="644.3" cy="360.3" r="0.53" fill="#e86848" opacity="0.75"/>
<circle cx="646.4" cy="399.2" r="0.61" fill="#ffc0a0" opacity="0.75"/>
<circle cx="655.2" cy="368.3" r="0.63" fill="#e86848" opacity="0.75"/>
<circle cx="643.5" cy="376.1" r="0.56" fill="#d84a28" opacity="0.75"/>
<circle cx="641.3" cy="373.3" r="0.60" fill="#ffc0a0" opacity="0.75"/>
<circle cx="650.1" cy="355.9" r="0.69" fill="#ffc0a0" opacity="0.75"/>
<circle cx="643.5" cy="369.2" r="0.59" fill="#7a1a06" opacity="0.75"/>
<circle cx="644.8" cy="372.7" r="0.45" fill="#d84a28" opacity="0.75"/>
<circle cx="642.1" cy="393.8" r="0.73" fill="#d84a28" opacity="0.75"/>
<circle cx="639.1" cy="374.9" r="0.76" fill="#e86848" opacity="0.75"/>
<circle cx="634.6" cy="367.2" r="0.75" fill="#d84a28" opacity="0.75"/>
<circle cx="656.9" cy="390.6" r="0.59" fill="#ffc0a0" opacity="0.75"/>
<circle cx="646.9" cy="379.0" r="0.66" fill="#ffc0a0" opacity="0.75"/>
<circle cx="645.6" cy="357.4" r="0.65" fill="#ffc0a0" opacity="0.75"/>
<circle cx="657.6" cy="386.2" r="0.59" fill="#e86848" opacity="0.75"/>
<circle cx="644.2" cy="378.3" r="0.64" fill="#7a1a06" opacity="0.75"/>
<circle cx="655.9" cy="399.3" r="0.57" fill="#ffc0a0" opacity="0.75"/>
<circle cx="653.1" cy="396.3" r="0.61" fill="#e86848" opacity="0.75"/>
<circle cx="638.3" cy="370.0" r="0.79" fill="#d84a28" opacity="0.75"/>
<circle cx="646.8" cy="360.6" r="0.75" fill="#d84a28" opacity="0.75"/>
<circle cx="654.4" cy="400.5" r="0.75" fill="#ffc0a0" opacity="0.75"/>
<circle cx="649.7" cy="379.3" r="0.72" fill="#7a1a06" opacity="0.75"/>
<circle cx="646.6" cy="364.1" r="0.43" fill="#e86848" opacity="0.75"/>
<circle cx="642.8" cy="400.6" r="0.64" fill="#e86848" opacity="0.75"/>
<circle cx="651.2" cy="356.1" r="0.35" fill="#e86848" opacity="0.75"/>
<rect x="634.0" y="355.6" width="1.5" height="45.3" fill="#2a0a04"/>
</g>
<rect x="709.8" y="354.0" width="57.2" height="47.0" fill="#fffff2"/>
<path d="M709.8,354.0 L737.70,354.0 A38.52,38.52 0 0 1 737.70,401.0 L709.8,401.0 Z" fill="url(#rg64)"/>
<g clip-path="url(#c64)">
<circle cx="721.3" cy="399.5" r="0.7" fill="#2a0804"/>
<circle cx="718.4" cy="351.5" r="0.7" fill="#2a0804"/>
<circle cx="727.2" cy="392.6" r="1.3" fill="#2a0804"/>
<circle cx="722.0" cy="398.2" r="0.7" fill="#2a0804"/>
<circle cx="725.9" cy="361.0" r="0.7" fill="#2a0804"/>
<circle cx="732.6" cy="378.6" r="0.6" fill="#2a0804"/>
<circle cx="719.2" cy="358.1" r="1.0" fill="#2a0804"/>
<circle cx="733.0" cy="375.5" r="1.2" fill="#2a0804"/>
<circle cx="730.0" cy="386.1" r="1.1" fill="#2a0804"/>
<circle cx="725.0" cy="357.1" r="0.8" fill="#2a0804"/>
<circle cx="717.9" cy="355.2" r="1.3" fill="#2a0804"/>
<circle cx="720.6" cy="402.2" r="0.8" fill="#2a0804"/>
<circle cx="734.3" cy="385.8" r="0.8" fill="#2a0804"/>
<circle cx="730.4" cy="371.6" r="0.6" fill="#2a0804"/>
<circle cx="717.8" cy="375.5" r="2" fill="#2a0804"/>
<circle cx="712.8" cy="391.0" r="7" fill="#f06a1c" opacity="0.5"/>
<path d="M709.8,397.0 Q719.8,391.0 729.8,398.0 L729.8,401.0 L709.8,401.0 Z" fill="#2a0a04" opacity="0.8"/>
</g>
<line x1="394.8" y1="16.8" x2="776.1" y2="16.8" stroke="#3a3a3a" stroke-width="1.3"/>
<line x1="394.8" y1="41.0" x2="776.1" y2="41.0" stroke="#3a3a3a" stroke-width="1.3"/>
<line x1="394.8" y1="96.6" x2="776.1" y2="96.6" stroke="#3a3a3a" stroke-width="1.3"/>
<line x1="394.8" y1="146.4" x2="776.1" y2="146.4" stroke="#3a3a3a" stroke-width="1.3"/>
<line x1="394.8" y1="199.3" x2="776.1" y2="199.3" stroke="#3a3a3a" stroke-width="1.3"/>
<line x1="394.8" y1="248.4" x2="776.1" y2="248.4" stroke="#3a3a3a" stroke-width="1.3"/>
<line x1="394.8" y1="297.6" x2="776.1" y2="297.6" stroke="#3a3a3a" stroke-width="1.3"/>
<line x1="394.8" y1="351.5" x2="776.1" y2="351.5" stroke="#3a3a3a" stroke-width="1.3"/>
<line x1="394.8" y1="404.5" x2="776.1" y2="404.5" stroke="#3a3a3a" stroke-width="1.3"/>
<line x1="395.3" y1="16.8" x2="395.3" y2="405.1" stroke="#3a3a3a" stroke-width="1.3"/>
<line x1="471.5" y1="16.8" x2="471.5" y2="405.1" stroke="#3a3a3a" stroke-width="1.3"/>
<line x1="547.4" y1="16.8" x2="547.4" y2="405.1" stroke="#3a3a3a" stroke-width="1.3"/>
<line x1="623.5" y1="16.8" x2="623.5" y2="405.1" stroke="#3a3a3a" stroke-width="1.3"/>
<line x1="699.8" y1="16.8" x2="699.8" y2="405.1" stroke="#3a3a3a" stroke-width="1.3"/>
<line x1="775.6" y1="16.8" x2="775.6" y2="405.1" stroke="#3a3a3a" stroke-width="1.3"/>
</svg>
<div class="t s" style="left:433.8px;top:23.8px;font-size:10.2px;transform:translate(-50%,-50%);">Time(min)</div>
<div class="t s" style="left:510px;top:23.7px;font-size:10.2px;transform:translate(-50%,-50%);">NMP without</div>
<div class="t s" style="left:510px;top:35.4px;font-size:10.2px;transform:translate(-50%,-50%);">β-CD</div>
<div class="t s" style="left:585.8px;top:23.7px;font-size:10.2px;transform:translate(-50%,-50%);">β-CD in NMP</div>
<div class="t s" style="left:662px;top:23.7px;font-size:10.2px;transform:translate(-50%,-50%);">β-CD in DMSO</div>
<div class="t s" style="left:738.6px;top:23.7px;font-size:10.2px;transform:translate(-50%,-50%);">β-CD in PYR</div>
<div class="t s" style="left:433.7px;top:70.1px;font-size:10.5px;transform:translate(-50%,-50%);">0</div>
<div class="t s" style="left:433.7px;top:123.0px;font-size:10.5px;transform:translate(-50%,-50%);">5</div>
<div class="t s" style="left:433.7px;top:174.1px;font-size:10.5px;transform:translate(-50%,-50%);">10</div>
<div class="t s" style="left:433.7px;top:225.0px;font-size:10.5px;transform:translate(-50%,-50%);">15</div>
<div class="t s" style="left:433.7px;top:274.3px;font-size:10.5px;transform:translate(-50%,-50%);">20</div>
<div class="t s" style="left:433.7px;top:325.9px;font-size:10.5px;transform:translate(-50%,-50%);">25</div>
<div class="t s" style="left:433.7px;top:379.5px;font-size:10.5px;transform:translate(-50%,-50%);">30</div>
</div></body></html>
